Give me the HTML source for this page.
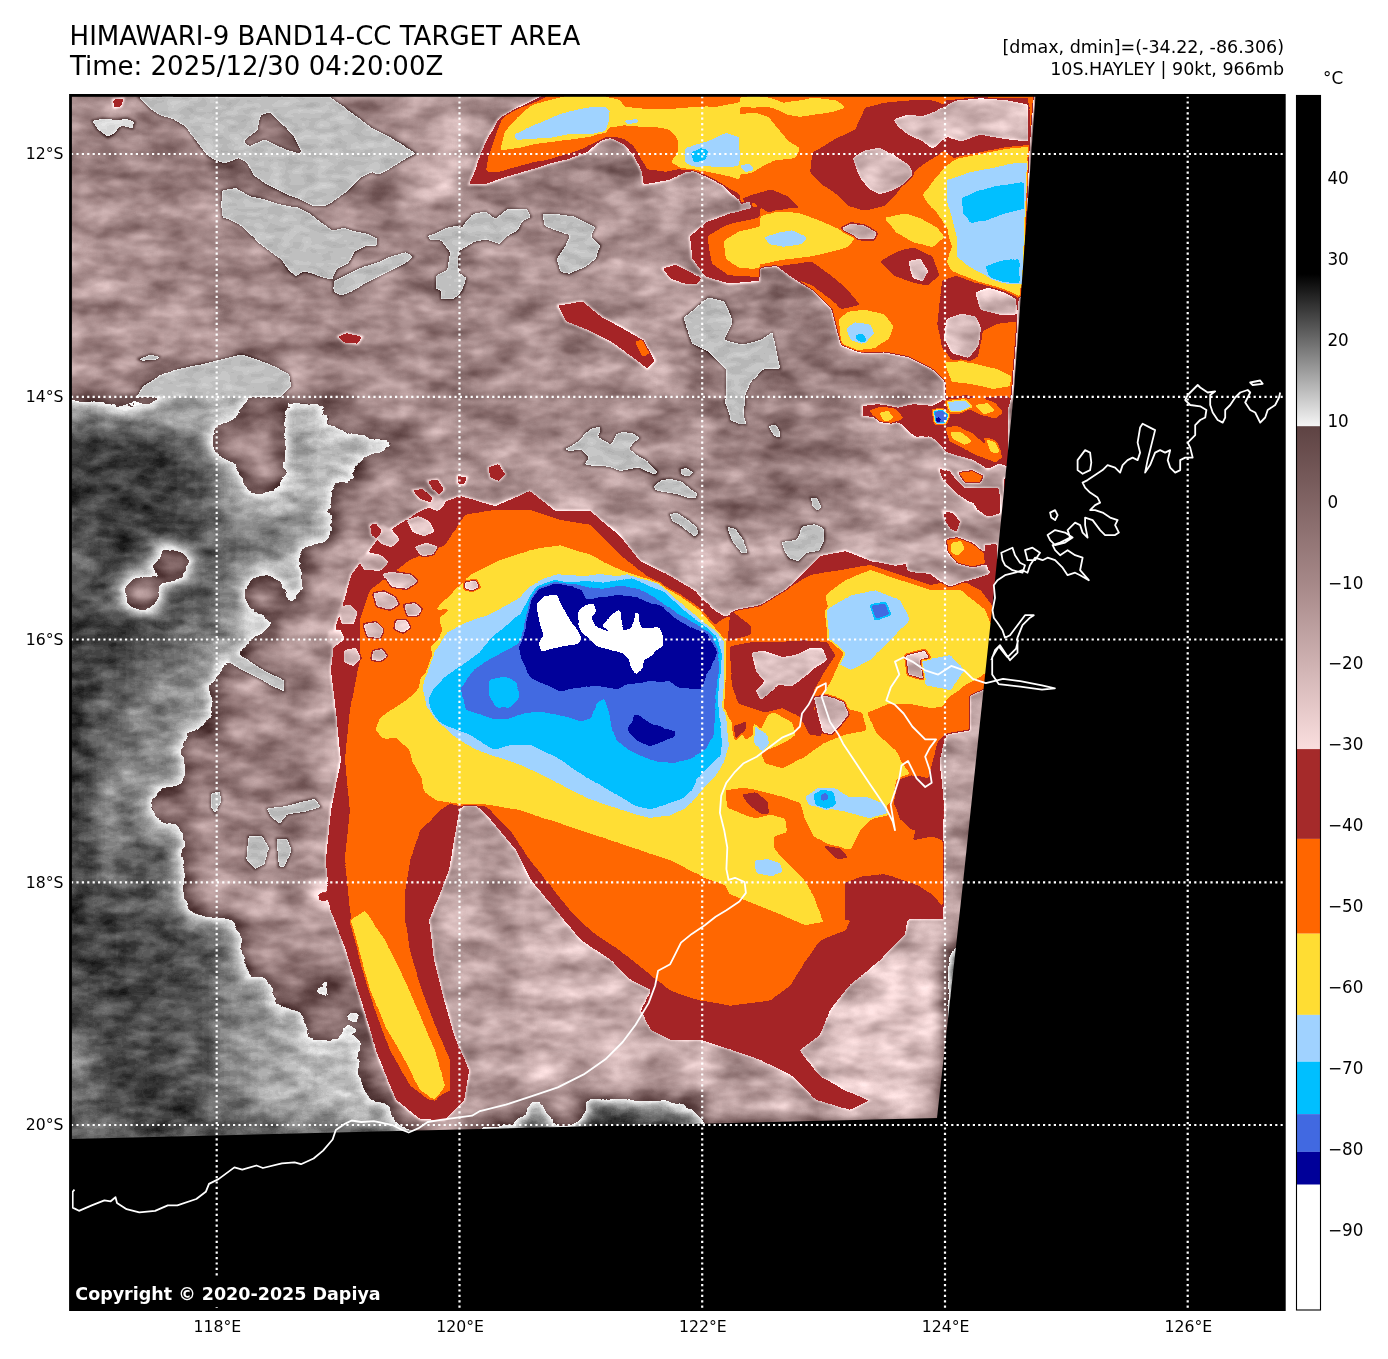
<!DOCTYPE html>
<html><head><meta charset="utf-8"><style>
html,body{margin:0;padding:0;background:#fff;width:1388px;height:1359px;overflow:hidden}
svg{display:block}
text{font-family:"DejaVu Sans","Liberation Sans",sans-serif;fill:#000}
</style></head><body>
<svg width="1388" height="1359" viewBox="0 0 1388 1359">
<defs>
<clipPath id="mapclip"><rect x="71" y="96" width="1213" height="1214"/></clipPath>
<linearGradient id="gbw" x1="0" y1="0" x2="0" y2="1"><stop offset="0" stop-color="#000"/><stop offset="1" stop-color="#f6f6f6"/></linearGradient>
<linearGradient id="gbr" x1="0" y1="0" x2="0" y2="1"><stop offset="0" stop-color="#5e4343"/><stop offset="0.5" stop-color="#a88a8a"/><stop offset="1" stop-color="#fadede"/></linearGradient>
</defs>
<rect width="1388" height="1359" fill="#fff"/>
<text x="69.6" y="44.8" font-size="26">HIMAWARI-9 BAND14-CC TARGET AREA</text>
<text x="69.9" y="74.9" font-size="26">Time: 2025/12/30 04:20:00Z</text>
<text x="1284" y="53.4" font-size="17.5" text-anchor="end">[dmax, dmin]=(-34.22, -86.306)</text>
<text x="1284" y="74.9" font-size="17.5" text-anchor="end">10S.HAYLEY | 90kt, 966mb</text>
<text x="1323" y="84" font-size="16.8">°C</text>

<g clip-path="url(#mapclip)">
<filter id="bl" filterUnits="userSpaceOnUse" x="30" y="50" width="1300" height="1300" color-interpolation-filters="sRGB"><feGaussianBlur in="SourceGraphic" stdDeviation="10" result="b"/><feTurbulence type="fractalNoise" baseFrequency="0.035 0.07" numOctaves="3" seed="7" result="n"/><feColorMatrix in="n" type="matrix" values="1 0 0 0 0  1 0 0 0 0  1 0 0 0 0  0 0 0 0 1" result="g"/><feComposite in="b" in2="g" operator="arithmetic" k1="0" k2="1" k3="0.06" k4="-0.03"/></filter>
<filter id="cm" filterUnits="userSpaceOnUse" x="30" y="50" width="1300" height="1300" color-interpolation-filters="sRGB">
<feGaussianBlur in="SourceGraphic" stdDeviation="1.2" result="b"/><feTurbulence type="fractalNoise" baseFrequency="0.06 0.12" numOctaves="2" seed="11" result="n"/><feColorMatrix in="n" type="matrix" values="1 0 0 0 0  1 0 0 0 0  1 0 0 0 0  0 0 0 0 1" result="g"/><feComposite in="b" in2="g" operator="arithmetic" k1="0" k2="1" k3="0.025" k4="-0.0125" result="nwithfield"/>
<feGaussianBlur in="SourceGraphic" stdDeviation="1.2" result="b2"/>
<feComponentTransfer in="b2" result="mask"><feFuncR type="discrete" tableValues="0 0 0 0 0 0 0 0 0 0 0 0 0 0 0 0 0 0 0 0 0 0 0 0 0 0 0 0 0 0 0 0 0 0 0 0 0 0 0 0 0 0 0 0 0 0 0 0 0 0 0 0 0 0 0 0 0 0 0 0 0 0 0 0 0 0 0 0 0 0 0 0 0 0 0 0 0 0 0 0 0 0 0 0 0 0 0 0 0 0 0 0 0 0 0 0 0 0 0 0 0 0 0 0 0 0 0 0 0 0 0 0 0 0 0 0 0 0 1 1 1 1 1 1 1 1 1 1 1 1 1 1 1 1 1 1 1 1 1 1 1 1 1 1 1 1 1 1 1 1 1 1 1 1 1 1 1 1 1 1 1 1 1 1 1 1 1 1 1 1 1 1 1 1 1 1 1 1 1 1 1 1 1 1 1 1 0 0 0 0 0 0 0 0 0 0 0 0 0 0 0 0 0 0 0 0 0 0 0 0 0 0 0 0 0 0 0 0 0 0 0 0 0 0 0 0 0 0 0 0 0 0 0 0 0 0 0 0 0 0 0 0 0 0 0 0 0 0 0 0 0 0 0 0 0 0"/><feFuncG type="discrete" tableValues="0 0 0 0 0 0 0 0 0 0 0 0 0 0 0 0 0 0 0 0 0 0 0 0 0 0 0 0 0 0 0 0 0 0 0 0 0 0 0 0 0 0 0 0 0 0 0 0 0 0 0 0 0 0 0 0 0 0 0 0 0 0 0 0 0 0 0 0 0 0 0 0 0 0 0 0 0 0 0 0 0 0 0 0 0 0 0 0 0 0 0 0 0 0 0 0 0 0 0 0 0 0 0 0 0 0 0 0 0 0 0 0 0 0 0 0 0 0 1 1 1 1 1 1 1 1 1 1 1 1 1 1 1 1 1 1 1 1 1 1 1 1 1 1 1 1 1 1 1 1 1 1 1 1 1 1 1 1 1 1 1 1 1 1 1 1 1 1 1 1 1 1 1 1 1 1 1 1 1 1 1 1 1 1 1 1 0 0 0 0 0 0 0 0 0 0 0 0 0 0 0 0 0 0 0 0 0 0 0 0 0 0 0 0 0 0 0 0 0 0 0 0 0 0 0 0 0 0 0 0 0 0 0 0 0 0 0 0 0 0 0 0 0 0 0 0 0 0 0 0 0 0 0 0 0 0"/><feFuncB type="discrete" tableValues="0 0 0 0 0 0 0 0 0 0 0 0 0 0 0 0 0 0 0 0 0 0 0 0 0 0 0 0 0 0 0 0 0 0 0 0 0 0 0 0 0 0 0 0 0 0 0 0 0 0 0 0 0 0 0 0 0 0 0 0 0 0 0 0 0 0 0 0 0 0 0 0 0 0 0 0 0 0 0 0 0 0 0 0 0 0 0 0 0 0 0 0 0 0 0 0 0 0 0 0 0 0 0 0 0 0 0 0 0 0 0 0 0 0 0 0 0 0 1 1 1 1 1 1 1 1 1 1 1 1 1 1 1 1 1 1 1 1 1 1 1 1 1 1 1 1 1 1 1 1 1 1 1 1 1 1 1 1 1 1 1 1 1 1 1 1 1 1 1 1 1 1 1 1 1 1 1 1 1 1 1 1 1 1 1 1 0 0 0 0 0 0 0 0 0 0 0 0 0 0 0 0 0 0 0 0 0 0 0 0 0 0 0 0 0 0 0 0 0 0 0 0 0 0 0 0 0 0 0 0 0 0 0 0 0 0 0 0 0 0 0 0 0 0 0 0 0 0 0 0 0 0 0 0 0 0"/><feFuncA type="identity"/></feComponentTransfer>
<feTurbulence type="fractalNoise" baseFrequency="0.025 0.05" numOctaves="3" seed="23" result="n3"/>
<feColorMatrix in="n3" type="matrix" values="1 0 0 0 0  1 0 0 0 0  1 0 0 0 0  0 0 0 0 1" result="g3"/>
<feComposite in="g3" in2="mask" operator="arithmetic" k1="0.5" k2="0" k3="-0.25" k4="0.5" result="nm"/>
<feComponentTransfer in="nwithfield" result="cm0"><feFuncR type="discrete" tableValues="1 1 1 1 1 1 1 1 1 1 1 1 1 1 1 1 1 1 1 1 1 1 1 1 1 1 1 0 0 0 0 0 0 0 0.255 0.255 0.255 0.255 0.255 0.255 0.255 0.255 0 0 0 0 0 0 0 0 0 0 0 0.627 0.627 0.627 0.627 0.627 0.627 0.627 0.627 0.627 0.627 1 1 1 1 1 1 1 1 1 1 1 1 1 1 1 1 1 1 1 1 1 1 1 1 1 1 1 1 1 1 1 1 1 1 1 1 1 0.647 0.647 0.647 0.647 0.647 0.647 0.647 0.647 0.647 0.647 0.647 0.647 0.647 0.647 0.647 0.647 0.647 0.647 0.987 0.978 0.969 0.96 0.951 0.942 0.933 0.924 0.915 0.906 0.897 0.888 0.878 0.869 0.86 0.851 0.842 0.833 0.824 0.815 0.806 0.797 0.788 0.779 0.77 0.761 0.752 0.743 0.733 0.724 0.715 0.706 0.697 0.688 0.679 0.67 0.661 0.652 0.643 0.634 0.625 0.616 0.607 0.597 0.588 0.579 0.57 0.561 0.552 0.543 0.534 0.525 0.516 0.507 0.498 0.489 0.48 0.471 0.461 0.452 0.443 0.434 0.425 0.416 0.407 0.398 0.389 0.38 0.959 0.929 0.898 0.868 0.838 0.807 0.777 0.747 0.716 0.686 0.655 0.625 0.595 0.564 0.534 0.504 0.473 0.443 0.413 0.382 0.352 0.322 0.291 0.261 0.231 0.2 0.17 0.14 0.109 0.0789 0.0486 0.0182 0 0 0 0 0 0 0 0 0 0 0 0 0 0 0 0 0 0 0 0 0 0 0 0 0 0 0 0 0 0 0 0 0 0 0 0 0 0"/><feFuncG type="discrete" tableValues="1 1 1 1 1 1 1 1 1 1 1 1 1 1 1 1 1 1 1 1 1 1 1 1 1 1 1 0 0 0 0 0 0 0 0.412 0.412 0.412 0.412 0.412 0.412 0.412 0.412 0.749 0.749 0.749 0.749 0.749 0.749 0.749 0.749 0.749 0.749 0.749 0.824 0.824 0.824 0.824 0.824 0.824 0.824 0.824 0.824 0.824 0.867 0.867 0.867 0.867 0.867 0.867 0.867 0.867 0.867 0.867 0.867 0.867 0.867 0.867 0.867 0.867 0.867 0.4 0.4 0.4 0.4 0.4 0.4 0.4 0.4 0.4 0.4 0.4 0.4 0.4 0.4 0.4 0.4 0.4 0.4 0.4 0.4 0.141 0.141 0.141 0.141 0.141 0.141 0.141 0.141 0.141 0.141 0.141 0.141 0.141 0.141 0.141 0.141 0.141 0.141 0.877 0.868 0.859 0.85 0.841 0.832 0.823 0.814 0.805 0.796 0.787 0.778 0.769 0.76 0.751 0.742 0.733 0.724 0.715 0.706 0.697 0.688 0.679 0.67 0.661 0.652 0.643 0.634 0.625 0.616 0.607 0.598 0.589 0.58 0.571 0.562 0.553 0.544 0.535 0.526 0.517 0.508 0.499 0.49 0.481 0.472 0.463 0.454 0.445 0.436 0.427 0.418 0.409 0.4 0.391 0.382 0.373 0.364 0.355 0.346 0.337 0.328 0.319 0.31 0.301 0.292 0.283 0.274 0.959 0.929 0.898 0.868 0.838 0.807 0.777 0.747 0.716 0.686 0.655 0.625 0.595 0.564 0.534 0.504 0.473 0.443 0.413 0.382 0.352 0.322 0.291 0.261 0.231 0.2 0.17 0.14 0.109 0.0789 0.0486 0.0182 0 0 0 0 0 0 0 0 0 0 0 0 0 0 0 0 0 0 0 0 0 0 0 0 0 0 0 0 0 0 0 0 0 0 0 0 0 0"/><feFuncB type="discrete" tableValues="1 1 1 1 1 1 1 1 1 1 1 1 1 1 1 1 1 1 1 1 1 1 1 1 1 1 1 0.6 0.6 0.6 0.6 0.6 0.6 0.6 0.882 0.882 0.882 0.882 0.882 0.882 0.882 0.882 1 1 1 1 1 1 1 1 1 1 1 1 1 1 1 1 1 1 1 1 1 0.2 0.2 0.2 0.2 0.2 0.2 0.2 0.2 0.2 0.2 0.2 0.2 0.2 0.2 0.2 0.2 0.2 0 0 0 0 0 0 0 0 0 0 0 0 0 0 0 0 0 0 0 0 0.149 0.149 0.149 0.149 0.149 0.149 0.149 0.149 0.149 0.149 0.149 0.149 0.149 0.149 0.149 0.149 0.149 0.149 0.877 0.868 0.859 0.85 0.841 0.832 0.823 0.814 0.805 0.796 0.787 0.778 0.769 0.76 0.751 0.742 0.733 0.724 0.715 0.706 0.697 0.688 0.679 0.67 0.661 0.652 0.643 0.634 0.625 0.616 0.607 0.598 0.589 0.58 0.571 0.562 0.553 0.544 0.535 0.526 0.517 0.508 0.499 0.49 0.481 0.472 0.463 0.454 0.445 0.436 0.427 0.418 0.409 0.4 0.391 0.382 0.373 0.364 0.355 0.346 0.337 0.328 0.319 0.31 0.301 0.292 0.283 0.274 0.959 0.929 0.898 0.868 0.838 0.807 0.777 0.747 0.716 0.686 0.655 0.625 0.595 0.564 0.534 0.504 0.473 0.443 0.413 0.382 0.352 0.322 0.291 0.261 0.231 0.2 0.17 0.14 0.109 0.0789 0.0486 0.0182 0 0 0 0 0 0 0 0 0 0 0 0 0 0 0 0 0 0 0 0 0 0 0 0 0 0 0 0 0 0 0 0 0 0 0 0 0 0"/><feFuncA type="identity"/></feComponentTransfer>
<feComposite in="cm0" in2="nm" operator="arithmetic" k1="0" k2="1" k3="1" k4="-0.5"/>
</filter>
<g filter="url(#cm)">
<g filter="url(#bl)">
<rect x="4.3" y="32.6" width="152.3" height="30.9" fill="rgb(155,155,155)"/>
<rect x="156.0" y="32.6" width="182.7" height="30.9" fill="rgb(162,162,162)"/>
<rect x="338.1" y="32.6" width="61.3" height="30.9" fill="rgb(155,155,155)"/>
<rect x="398.8" y="32.6" width="91.6" height="30.9" fill="rgb(148,148,148)"/>
<rect x="489.8" y="32.6" width="425.4" height="30.9" fill="rgb(155,155,155)"/>
<rect x="914.6" y="32.6" width="122.0" height="30.9" fill="rgb(148,148,148)"/>
<rect x="1036.0" y="32.6" width="91.6" height="30.9" fill="rgb(219,219,219)"/>
<rect x="4.3" y="63.0" width="152.3" height="30.9" fill="rgb(155,155,155)"/>
<rect x="156.0" y="63.0" width="182.7" height="30.9" fill="rgb(162,162,162)"/>
<rect x="338.1" y="63.0" width="61.3" height="30.9" fill="rgb(155,155,155)"/>
<rect x="398.8" y="63.0" width="91.6" height="30.9" fill="rgb(148,148,148)"/>
<rect x="489.8" y="63.0" width="425.4" height="30.9" fill="rgb(155,155,155)"/>
<rect x="914.6" y="63.0" width="122.0" height="30.9" fill="rgb(148,148,148)"/>
<rect x="1036.0" y="63.0" width="91.6" height="30.9" fill="rgb(219,219,219)"/>
<rect x="4.3" y="93.3" width="152.3" height="30.9" fill="rgb(155,155,155)"/>
<rect x="156.0" y="93.3" width="182.7" height="30.9" fill="rgb(162,162,162)"/>
<rect x="338.1" y="93.3" width="61.3" height="30.9" fill="rgb(155,155,155)"/>
<rect x="398.8" y="93.3" width="91.6" height="30.9" fill="rgb(148,148,148)"/>
<rect x="489.8" y="93.3" width="425.4" height="30.9" fill="rgb(155,155,155)"/>
<rect x="914.6" y="93.3" width="122.0" height="30.9" fill="rgb(148,148,148)"/>
<rect x="1036.0" y="93.3" width="91.6" height="30.9" fill="rgb(219,219,219)"/>
<rect x="4.3" y="123.7" width="152.3" height="30.9" fill="rgb(155,155,155)"/>
<rect x="156.0" y="123.7" width="30.9" height="30.9" fill="rgb(162,162,162)"/>
<rect x="186.4" y="123.7" width="30.9" height="30.9" fill="rgb(148,148,148)"/>
<rect x="216.7" y="123.7" width="182.7" height="30.9" fill="rgb(162,162,162)"/>
<rect x="398.8" y="123.7" width="30.9" height="30.9" fill="rgb(148,148,148)"/>
<rect x="429.1" y="123.7" width="30.9" height="30.9" fill="rgb(141,141,141)"/>
<rect x="459.5" y="123.7" width="425.4" height="30.9" fill="rgb(155,155,155)"/>
<rect x="884.3" y="123.7" width="61.3" height="30.9" fill="rgb(148,148,148)"/>
<rect x="945.0" y="123.7" width="61.3" height="30.9" fill="rgb(155,155,155)"/>
<rect x="1005.7" y="123.7" width="30.9" height="30.9" fill="rgb(148,148,148)"/>
<rect x="1036.0" y="123.7" width="91.6" height="30.9" fill="rgb(219,219,219)"/>
<rect x="4.3" y="154.0" width="122.0" height="30.9" fill="rgb(162,162,162)"/>
<rect x="125.7" y="154.0" width="30.9" height="30.9" fill="rgb(168,168,168)"/>
<rect x="156.0" y="154.0" width="61.3" height="30.9" fill="rgb(162,162,162)"/>
<rect x="216.7" y="154.0" width="30.9" height="30.9" fill="rgb(175,175,175)"/>
<rect x="247.0" y="154.0" width="122.0" height="30.9" fill="rgb(162,162,162)"/>
<rect x="368.4" y="154.0" width="30.9" height="30.9" fill="rgb(168,168,168)"/>
<rect x="398.8" y="154.0" width="30.9" height="30.9" fill="rgb(148,148,148)"/>
<rect x="429.1" y="154.0" width="30.9" height="30.9" fill="rgb(134,134,134)"/>
<rect x="459.5" y="154.0" width="91.6" height="30.9" fill="rgb(155,155,155)"/>
<rect x="550.5" y="154.0" width="61.3" height="30.9" fill="rgb(162,162,162)"/>
<rect x="611.2" y="154.0" width="30.9" height="30.9" fill="rgb(168,168,168)"/>
<rect x="641.5" y="154.0" width="213.0" height="30.9" fill="rgb(155,155,155)"/>
<rect x="853.9" y="154.0" width="30.9" height="30.9" fill="rgb(148,148,148)"/>
<rect x="884.3" y="154.0" width="152.3" height="30.9" fill="rgb(155,155,155)"/>
<rect x="1036.0" y="154.0" width="91.6" height="30.9" fill="rgb(219,219,219)"/>
<rect x="4.3" y="184.3" width="152.3" height="30.9" fill="rgb(155,155,155)"/>
<rect x="156.0" y="184.3" width="30.9" height="30.9" fill="rgb(162,162,162)"/>
<rect x="186.4" y="184.3" width="30.9" height="30.9" fill="rgb(148,148,148)"/>
<rect x="216.7" y="184.3" width="91.6" height="30.9" fill="rgb(162,162,162)"/>
<rect x="307.7" y="184.3" width="30.9" height="30.9" fill="rgb(148,148,148)"/>
<rect x="338.1" y="184.3" width="30.9" height="30.9" fill="rgb(168,168,168)"/>
<rect x="368.4" y="184.3" width="30.9" height="30.9" fill="rgb(162,162,162)"/>
<rect x="398.8" y="184.3" width="30.9" height="30.9" fill="rgb(155,155,155)"/>
<rect x="429.1" y="184.3" width="30.9" height="30.9" fill="rgb(141,141,141)"/>
<rect x="459.5" y="184.3" width="122.0" height="30.9" fill="rgb(162,162,162)"/>
<rect x="580.8" y="184.3" width="61.3" height="30.9" fill="rgb(155,155,155)"/>
<rect x="641.5" y="184.3" width="30.9" height="30.9" fill="rgb(148,148,148)"/>
<rect x="671.9" y="184.3" width="30.9" height="30.9" fill="rgb(141,141,141)"/>
<rect x="702.2" y="184.3" width="30.9" height="30.9" fill="rgb(148,148,148)"/>
<rect x="732.6" y="184.3" width="304.1" height="30.9" fill="rgb(155,155,155)"/>
<rect x="1036.0" y="184.3" width="91.6" height="30.9" fill="rgb(219,219,219)"/>
<rect x="4.3" y="214.7" width="91.6" height="30.9" fill="rgb(148,148,148)"/>
<rect x="95.3" y="214.7" width="122.0" height="30.9" fill="rgb(155,155,155)"/>
<rect x="216.7" y="214.7" width="122.0" height="30.9" fill="rgb(162,162,162)"/>
<rect x="338.1" y="214.7" width="30.9" height="30.9" fill="rgb(148,148,148)"/>
<rect x="368.4" y="214.7" width="61.3" height="30.9" fill="rgb(155,155,155)"/>
<rect x="429.1" y="214.7" width="30.9" height="30.9" fill="rgb(162,162,162)"/>
<rect x="459.5" y="214.7" width="122.0" height="30.9" fill="rgb(155,155,155)"/>
<rect x="580.8" y="214.7" width="30.9" height="30.9" fill="rgb(148,148,148)"/>
<rect x="611.2" y="214.7" width="91.6" height="30.9" fill="rgb(155,155,155)"/>
<rect x="702.2" y="214.7" width="30.9" height="30.9" fill="rgb(148,148,148)"/>
<rect x="732.6" y="214.7" width="304.1" height="30.9" fill="rgb(155,155,155)"/>
<rect x="1036.0" y="214.7" width="91.6" height="30.9" fill="rgb(219,219,219)"/>
<rect x="4.3" y="245.0" width="91.6" height="30.9" fill="rgb(148,148,148)"/>
<rect x="95.3" y="245.0" width="30.9" height="30.9" fill="rgb(155,155,155)"/>
<rect x="125.7" y="245.0" width="30.9" height="30.9" fill="rgb(148,148,148)"/>
<rect x="156.0" y="245.0" width="91.6" height="30.9" fill="rgb(155,155,155)"/>
<rect x="247.0" y="245.0" width="61.3" height="30.9" fill="rgb(162,162,162)"/>
<rect x="307.7" y="245.0" width="30.9" height="30.9" fill="rgb(155,155,155)"/>
<rect x="338.1" y="245.0" width="30.9" height="30.9" fill="rgb(148,148,148)"/>
<rect x="368.4" y="245.0" width="91.6" height="30.9" fill="rgb(162,162,162)"/>
<rect x="459.5" y="245.0" width="152.3" height="30.9" fill="rgb(155,155,155)"/>
<rect x="611.2" y="245.0" width="30.9" height="30.9" fill="rgb(148,148,148)"/>
<rect x="641.5" y="245.0" width="395.1" height="30.9" fill="rgb(155,155,155)"/>
<rect x="1036.0" y="245.0" width="91.6" height="30.9" fill="rgb(219,219,219)"/>
<rect x="4.3" y="275.4" width="152.3" height="30.9" fill="rgb(155,155,155)"/>
<rect x="156.0" y="275.4" width="30.9" height="30.9" fill="rgb(162,162,162)"/>
<rect x="186.4" y="275.4" width="30.9" height="30.9" fill="rgb(155,155,155)"/>
<rect x="216.7" y="275.4" width="30.9" height="30.9" fill="rgb(162,162,162)"/>
<rect x="247.0" y="275.4" width="91.6" height="30.9" fill="rgb(155,155,155)"/>
<rect x="338.1" y="275.4" width="30.9" height="30.9" fill="rgb(162,162,162)"/>
<rect x="368.4" y="275.4" width="30.9" height="30.9" fill="rgb(148,148,148)"/>
<rect x="398.8" y="275.4" width="61.3" height="30.9" fill="rgb(162,162,162)"/>
<rect x="459.5" y="275.4" width="91.6" height="30.9" fill="rgb(155,155,155)"/>
<rect x="550.5" y="275.4" width="30.9" height="30.9" fill="rgb(148,148,148)"/>
<rect x="580.8" y="275.4" width="61.3" height="30.9" fill="rgb(155,155,155)"/>
<rect x="641.5" y="275.4" width="61.3" height="30.9" fill="rgb(148,148,148)"/>
<rect x="702.2" y="275.4" width="91.6" height="30.9" fill="rgb(162,162,162)"/>
<rect x="793.3" y="275.4" width="243.4" height="30.9" fill="rgb(155,155,155)"/>
<rect x="1036.0" y="275.4" width="91.6" height="30.9" fill="rgb(219,219,219)"/>
<rect x="4.3" y="305.7" width="122.0" height="30.9" fill="rgb(155,155,155)"/>
<rect x="125.7" y="305.7" width="30.9" height="30.9" fill="rgb(148,148,148)"/>
<rect x="156.0" y="305.7" width="30.9" height="30.9" fill="rgb(155,155,155)"/>
<rect x="186.4" y="305.7" width="30.9" height="30.9" fill="rgb(148,148,148)"/>
<rect x="216.7" y="305.7" width="30.9" height="30.9" fill="rgb(155,155,155)"/>
<rect x="247.0" y="305.7" width="30.9" height="30.9" fill="rgb(162,162,162)"/>
<rect x="277.4" y="305.7" width="30.9" height="30.9" fill="rgb(155,155,155)"/>
<rect x="307.7" y="305.7" width="30.9" height="30.9" fill="rgb(162,162,162)"/>
<rect x="338.1" y="305.7" width="152.3" height="30.9" fill="rgb(155,155,155)"/>
<rect x="489.8" y="305.7" width="61.3" height="30.9" fill="rgb(162,162,162)"/>
<rect x="550.5" y="305.7" width="91.6" height="30.9" fill="rgb(155,155,155)"/>
<rect x="641.5" y="305.7" width="61.3" height="30.9" fill="rgb(148,148,148)"/>
<rect x="702.2" y="305.7" width="122.0" height="30.9" fill="rgb(162,162,162)"/>
<rect x="823.6" y="305.7" width="152.3" height="30.9" fill="rgb(155,155,155)"/>
<rect x="975.3" y="305.7" width="30.9" height="30.9" fill="rgb(148,148,148)"/>
<rect x="1005.7" y="305.7" width="30.9" height="30.9" fill="rgb(155,155,155)"/>
<rect x="1036.0" y="305.7" width="91.6" height="30.9" fill="rgb(219,219,219)"/>
<rect x="4.3" y="336.1" width="152.3" height="30.9" fill="rgb(148,148,148)"/>
<rect x="156.0" y="336.1" width="30.9" height="30.9" fill="rgb(155,155,155)"/>
<rect x="186.4" y="336.1" width="30.9" height="30.9" fill="rgb(148,148,148)"/>
<rect x="216.7" y="336.1" width="122.0" height="30.9" fill="rgb(155,155,155)"/>
<rect x="338.1" y="336.1" width="30.9" height="30.9" fill="rgb(162,162,162)"/>
<rect x="368.4" y="336.1" width="61.3" height="30.9" fill="rgb(155,155,155)"/>
<rect x="429.1" y="336.1" width="30.9" height="30.9" fill="rgb(162,162,162)"/>
<rect x="459.5" y="336.1" width="243.4" height="30.9" fill="rgb(155,155,155)"/>
<rect x="702.2" y="336.1" width="122.0" height="30.9" fill="rgb(162,162,162)"/>
<rect x="823.6" y="336.1" width="122.0" height="30.9" fill="rgb(155,155,155)"/>
<rect x="945.0" y="336.1" width="30.9" height="30.9" fill="rgb(148,148,148)"/>
<rect x="975.3" y="336.1" width="61.3" height="30.9" fill="rgb(155,155,155)"/>
<rect x="1036.0" y="336.1" width="91.6" height="30.9" fill="rgb(219,219,219)"/>
<rect x="4.3" y="366.4" width="152.3" height="30.9" fill="rgb(155,155,155)"/>
<rect x="156.0" y="366.4" width="122.0" height="30.9" fill="rgb(196,196,196)"/>
<rect x="277.4" y="366.4" width="152.3" height="30.9" fill="rgb(155,155,155)"/>
<rect x="429.1" y="366.4" width="30.9" height="30.9" fill="rgb(168,168,168)"/>
<rect x="459.5" y="366.4" width="30.9" height="30.9" fill="rgb(162,162,162)"/>
<rect x="489.8" y="366.4" width="30.9" height="30.9" fill="rgb(155,155,155)"/>
<rect x="520.1" y="366.4" width="30.9" height="30.9" fill="rgb(148,148,148)"/>
<rect x="550.5" y="366.4" width="30.9" height="30.9" fill="rgb(155,155,155)"/>
<rect x="580.8" y="366.4" width="91.6" height="30.9" fill="rgb(148,148,148)"/>
<rect x="671.9" y="366.4" width="30.9" height="30.9" fill="rgb(155,155,155)"/>
<rect x="702.2" y="366.4" width="243.4" height="30.9" fill="rgb(162,162,162)"/>
<rect x="945.0" y="366.4" width="91.6" height="30.9" fill="rgb(155,155,155)"/>
<rect x="1036.0" y="366.4" width="91.6" height="30.9" fill="rgb(219,219,219)"/>
<rect x="4.3" y="396.8" width="91.6" height="30.9" fill="rgb(200,200,200)"/>
<rect x="95.3" y="396.8" width="152.3" height="30.9" fill="rgb(196,196,196)"/>
<rect x="247.0" y="396.8" width="30.9" height="30.9" fill="rgb(155,155,155)"/>
<rect x="277.4" y="396.8" width="30.9" height="30.9" fill="rgb(196,196,196)"/>
<rect x="307.7" y="396.8" width="30.9" height="30.9" fill="rgb(193,193,193)"/>
<rect x="338.1" y="396.8" width="30.9" height="30.9" fill="rgb(155,155,155)"/>
<rect x="368.4" y="396.8" width="61.3" height="30.9" fill="rgb(148,148,148)"/>
<rect x="429.1" y="396.8" width="30.9" height="30.9" fill="rgb(155,155,155)"/>
<rect x="459.5" y="396.8" width="91.6" height="30.9" fill="rgb(162,162,162)"/>
<rect x="550.5" y="396.8" width="30.9" height="30.9" fill="rgb(155,155,155)"/>
<rect x="580.8" y="396.8" width="61.3" height="30.9" fill="rgb(162,162,162)"/>
<rect x="641.5" y="396.8" width="61.3" height="30.9" fill="rgb(155,155,155)"/>
<rect x="702.2" y="396.8" width="152.3" height="30.9" fill="rgb(162,162,162)"/>
<rect x="853.9" y="396.8" width="182.7" height="30.9" fill="rgb(155,155,155)"/>
<rect x="1036.0" y="396.8" width="91.6" height="30.9" fill="rgb(219,219,219)"/>
<rect x="4.3" y="427.1" width="152.3" height="30.9" fill="rgb(210,210,210)"/>
<rect x="156.0" y="427.1" width="30.9" height="30.9" fill="rgb(207,207,207)"/>
<rect x="186.4" y="427.1" width="30.9" height="30.9" fill="rgb(204,204,204)"/>
<rect x="216.7" y="427.1" width="61.3" height="30.9" fill="rgb(148,148,148)"/>
<rect x="277.4" y="427.1" width="30.9" height="30.9" fill="rgb(196,196,196)"/>
<rect x="307.7" y="427.1" width="30.9" height="30.9" fill="rgb(193,193,193)"/>
<rect x="338.1" y="427.1" width="30.9" height="30.9" fill="rgb(196,196,196)"/>
<rect x="368.4" y="427.1" width="30.9" height="30.9" fill="rgb(193,193,193)"/>
<rect x="398.8" y="427.1" width="30.9" height="30.9" fill="rgb(168,168,168)"/>
<rect x="429.1" y="427.1" width="30.9" height="30.9" fill="rgb(148,148,148)"/>
<rect x="459.5" y="427.1" width="61.3" height="30.9" fill="rgb(155,155,155)"/>
<rect x="520.1" y="427.1" width="30.9" height="30.9" fill="rgb(148,148,148)"/>
<rect x="550.5" y="427.1" width="152.3" height="30.9" fill="rgb(155,155,155)"/>
<rect x="702.2" y="427.1" width="152.3" height="30.9" fill="rgb(162,162,162)"/>
<rect x="853.9" y="427.1" width="182.7" height="30.9" fill="rgb(148,148,148)"/>
<rect x="1036.0" y="427.1" width="91.6" height="30.9" fill="rgb(219,219,219)"/>
<rect x="4.3" y="457.4" width="182.7" height="30.9" fill="rgb(210,210,210)"/>
<rect x="186.4" y="457.4" width="30.9" height="30.9" fill="rgb(207,207,207)"/>
<rect x="216.7" y="457.4" width="30.9" height="30.9" fill="rgb(200,200,200)"/>
<rect x="247.0" y="457.4" width="30.9" height="30.9" fill="rgb(148,148,148)"/>
<rect x="277.4" y="457.4" width="30.9" height="30.9" fill="rgb(196,196,196)"/>
<rect x="307.7" y="457.4" width="61.3" height="30.9" fill="rgb(193,193,193)"/>
<rect x="368.4" y="457.4" width="30.9" height="30.9" fill="rgb(155,155,155)"/>
<rect x="398.8" y="457.4" width="30.9" height="30.9" fill="rgb(148,148,148)"/>
<rect x="429.1" y="457.4" width="61.3" height="30.9" fill="rgb(155,155,155)"/>
<rect x="489.8" y="457.4" width="30.9" height="30.9" fill="rgb(148,148,148)"/>
<rect x="520.1" y="457.4" width="30.9" height="30.9" fill="rgb(155,155,155)"/>
<rect x="550.5" y="457.4" width="30.9" height="30.9" fill="rgb(148,148,148)"/>
<rect x="580.8" y="457.4" width="30.9" height="30.9" fill="rgb(155,155,155)"/>
<rect x="611.2" y="457.4" width="30.9" height="30.9" fill="rgb(148,148,148)"/>
<rect x="641.5" y="457.4" width="61.3" height="30.9" fill="rgb(155,155,155)"/>
<rect x="702.2" y="457.4" width="152.3" height="30.9" fill="rgb(162,162,162)"/>
<rect x="853.9" y="457.4" width="182.7" height="30.9" fill="rgb(148,148,148)"/>
<rect x="1036.0" y="457.4" width="91.6" height="30.9" fill="rgb(219,219,219)"/>
<rect x="4.3" y="487.8" width="182.7" height="30.9" fill="rgb(210,210,210)"/>
<rect x="186.4" y="487.8" width="30.9" height="30.9" fill="rgb(207,207,207)"/>
<rect x="216.7" y="487.8" width="122.0" height="30.9" fill="rgb(196,196,196)"/>
<rect x="338.1" y="487.8" width="30.9" height="30.9" fill="rgb(155,155,155)"/>
<rect x="368.4" y="487.8" width="30.9" height="30.9" fill="rgb(148,148,148)"/>
<rect x="398.8" y="487.8" width="30.9" height="30.9" fill="rgb(162,162,162)"/>
<rect x="429.1" y="487.8" width="30.9" height="30.9" fill="rgb(148,148,148)"/>
<rect x="459.5" y="487.8" width="61.3" height="30.9" fill="rgb(155,155,155)"/>
<rect x="520.1" y="487.8" width="30.9" height="30.9" fill="rgb(148,148,148)"/>
<rect x="550.5" y="487.8" width="30.9" height="30.9" fill="rgb(141,141,141)"/>
<rect x="580.8" y="487.8" width="30.9" height="30.9" fill="rgb(148,148,148)"/>
<rect x="611.2" y="487.8" width="61.3" height="30.9" fill="rgb(155,155,155)"/>
<rect x="671.9" y="487.8" width="30.9" height="30.9" fill="rgb(148,148,148)"/>
<rect x="702.2" y="487.8" width="152.3" height="30.9" fill="rgb(162,162,162)"/>
<rect x="853.9" y="487.8" width="152.3" height="30.9" fill="rgb(148,148,148)"/>
<rect x="1005.7" y="487.8" width="122.0" height="30.9" fill="rgb(219,219,219)"/>
<rect x="4.3" y="518.1" width="91.6" height="30.9" fill="rgb(207,207,207)"/>
<rect x="95.3" y="518.1" width="91.6" height="30.9" fill="rgb(210,210,210)"/>
<rect x="186.4" y="518.1" width="30.9" height="30.9" fill="rgb(207,207,207)"/>
<rect x="216.7" y="518.1" width="30.9" height="30.9" fill="rgb(204,204,204)"/>
<rect x="247.0" y="518.1" width="61.3" height="30.9" fill="rgb(200,200,200)"/>
<rect x="307.7" y="518.1" width="30.9" height="30.9" fill="rgb(196,196,196)"/>
<rect x="338.1" y="518.1" width="30.9" height="30.9" fill="rgb(148,148,148)"/>
<rect x="368.4" y="518.1" width="61.3" height="30.9" fill="rgb(155,155,155)"/>
<rect x="429.1" y="518.1" width="334.4" height="30.9" fill="rgb(148,148,148)"/>
<rect x="762.9" y="518.1" width="61.3" height="30.9" fill="rgb(155,155,155)"/>
<rect x="823.6" y="518.1" width="182.7" height="30.9" fill="rgb(148,148,148)"/>
<rect x="1005.7" y="518.1" width="122.0" height="30.9" fill="rgb(219,219,219)"/>
<rect x="4.3" y="548.5" width="91.6" height="30.9" fill="rgb(204,204,204)"/>
<rect x="95.3" y="548.5" width="30.9" height="30.9" fill="rgb(210,210,210)"/>
<rect x="125.7" y="548.5" width="30.9" height="30.9" fill="rgb(207,207,207)"/>
<rect x="156.0" y="548.5" width="30.9" height="30.9" fill="rgb(155,155,155)"/>
<rect x="186.4" y="548.5" width="30.9" height="30.9" fill="rgb(207,207,207)"/>
<rect x="216.7" y="548.5" width="30.9" height="30.9" fill="rgb(204,204,204)"/>
<rect x="247.0" y="548.5" width="30.9" height="30.9" fill="rgb(200,200,200)"/>
<rect x="277.4" y="548.5" width="30.9" height="30.9" fill="rgb(196,196,196)"/>
<rect x="307.7" y="548.5" width="30.9" height="30.9" fill="rgb(148,148,148)"/>
<rect x="338.1" y="548.5" width="30.9" height="30.9" fill="rgb(155,155,155)"/>
<rect x="368.4" y="548.5" width="334.4" height="30.9" fill="rgb(148,148,148)"/>
<rect x="702.2" y="548.5" width="30.9" height="30.9" fill="rgb(141,141,141)"/>
<rect x="732.6" y="548.5" width="273.7" height="30.9" fill="rgb(148,148,148)"/>
<rect x="1005.7" y="548.5" width="122.0" height="30.9" fill="rgb(219,219,219)"/>
<rect x="4.3" y="578.8" width="122.0" height="30.9" fill="rgb(207,207,207)"/>
<rect x="125.7" y="578.8" width="30.9" height="30.9" fill="rgb(155,155,155)"/>
<rect x="156.0" y="578.8" width="30.9" height="30.9" fill="rgb(210,210,210)"/>
<rect x="186.4" y="578.8" width="30.9" height="30.9" fill="rgb(207,207,207)"/>
<rect x="216.7" y="578.8" width="30.9" height="30.9" fill="rgb(200,200,200)"/>
<rect x="247.0" y="578.8" width="30.9" height="30.9" fill="rgb(155,155,155)"/>
<rect x="277.4" y="578.8" width="30.9" height="30.9" fill="rgb(196,196,196)"/>
<rect x="307.7" y="578.8" width="698.5" height="30.9" fill="rgb(148,148,148)"/>
<rect x="1005.7" y="578.8" width="122.0" height="30.9" fill="rgb(219,219,219)"/>
<rect x="4.3" y="609.2" width="152.3" height="30.9" fill="rgb(210,210,210)"/>
<rect x="156.0" y="609.2" width="30.9" height="30.9" fill="rgb(207,207,207)"/>
<rect x="186.4" y="609.2" width="30.9" height="30.9" fill="rgb(204,204,204)"/>
<rect x="216.7" y="609.2" width="30.9" height="30.9" fill="rgb(200,200,200)"/>
<rect x="247.0" y="609.2" width="30.9" height="30.9" fill="rgb(196,196,196)"/>
<rect x="277.4" y="609.2" width="30.9" height="30.9" fill="rgb(155,155,155)"/>
<rect x="307.7" y="609.2" width="698.5" height="30.9" fill="rgb(148,148,148)"/>
<rect x="1005.7" y="609.2" width="122.0" height="30.9" fill="rgb(219,219,219)"/>
<rect x="4.3" y="639.5" width="122.0" height="30.9" fill="rgb(210,210,210)"/>
<rect x="125.7" y="639.5" width="30.9" height="30.9" fill="rgb(207,207,207)"/>
<rect x="156.0" y="639.5" width="30.9" height="30.9" fill="rgb(204,204,204)"/>
<rect x="186.4" y="639.5" width="30.9" height="30.9" fill="rgb(200,200,200)"/>
<rect x="216.7" y="639.5" width="30.9" height="30.9" fill="rgb(196,196,196)"/>
<rect x="247.0" y="639.5" width="91.6" height="30.9" fill="rgb(155,155,155)"/>
<rect x="338.1" y="639.5" width="668.2" height="30.9" fill="rgb(148,148,148)"/>
<rect x="1005.7" y="639.5" width="122.0" height="30.9" fill="rgb(219,219,219)"/>
<rect x="4.3" y="669.9" width="91.6" height="30.9" fill="rgb(210,210,210)"/>
<rect x="95.3" y="669.9" width="30.9" height="30.9" fill="rgb(207,207,207)"/>
<rect x="125.7" y="669.9" width="30.9" height="30.9" fill="rgb(204,204,204)"/>
<rect x="156.0" y="669.9" width="61.3" height="30.9" fill="rgb(200,200,200)"/>
<rect x="216.7" y="669.9" width="61.3" height="30.9" fill="rgb(155,155,155)"/>
<rect x="277.4" y="669.9" width="30.9" height="30.9" fill="rgb(162,162,162)"/>
<rect x="307.7" y="669.9" width="698.5" height="30.9" fill="rgb(148,148,148)"/>
<rect x="1005.7" y="669.9" width="122.0" height="30.9" fill="rgb(219,219,219)"/>
<rect x="4.3" y="700.2" width="91.6" height="30.9" fill="rgb(210,210,210)"/>
<rect x="95.3" y="700.2" width="30.9" height="30.9" fill="rgb(207,207,207)"/>
<rect x="125.7" y="700.2" width="91.6" height="30.9" fill="rgb(200,200,200)"/>
<rect x="216.7" y="700.2" width="30.9" height="30.9" fill="rgb(155,155,155)"/>
<rect x="247.0" y="700.2" width="30.9" height="30.9" fill="rgb(162,162,162)"/>
<rect x="277.4" y="700.2" width="30.9" height="30.9" fill="rgb(155,155,155)"/>
<rect x="307.7" y="700.2" width="698.5" height="30.9" fill="rgb(148,148,148)"/>
<rect x="1005.7" y="700.2" width="122.0" height="30.9" fill="rgb(219,219,219)"/>
<rect x="4.3" y="730.6" width="91.6" height="30.9" fill="rgb(210,210,210)"/>
<rect x="95.3" y="730.6" width="30.9" height="30.9" fill="rgb(204,204,204)"/>
<rect x="125.7" y="730.6" width="61.3" height="30.9" fill="rgb(200,200,200)"/>
<rect x="186.4" y="730.6" width="30.9" height="30.9" fill="rgb(162,162,162)"/>
<rect x="216.7" y="730.6" width="30.9" height="30.9" fill="rgb(155,155,155)"/>
<rect x="247.0" y="730.6" width="61.3" height="30.9" fill="rgb(162,162,162)"/>
<rect x="307.7" y="730.6" width="637.8" height="30.9" fill="rgb(148,148,148)"/>
<rect x="945.0" y="730.6" width="30.9" height="30.9" fill="rgb(141,141,141)"/>
<rect x="975.3" y="730.6" width="30.9" height="30.9" fill="rgb(148,148,148)"/>
<rect x="1005.7" y="730.6" width="122.0" height="30.9" fill="rgb(219,219,219)"/>
<rect x="4.3" y="760.9" width="91.6" height="30.9" fill="rgb(210,210,210)"/>
<rect x="95.3" y="760.9" width="61.3" height="30.9" fill="rgb(200,200,200)"/>
<rect x="156.0" y="760.9" width="30.9" height="30.9" fill="rgb(204,204,204)"/>
<rect x="186.4" y="760.9" width="30.9" height="30.9" fill="rgb(155,155,155)"/>
<rect x="216.7" y="760.9" width="91.6" height="30.9" fill="rgb(162,162,162)"/>
<rect x="307.7" y="760.9" width="30.9" height="30.9" fill="rgb(148,148,148)"/>
<rect x="338.1" y="760.9" width="30.9" height="30.9" fill="rgb(155,155,155)"/>
<rect x="368.4" y="760.9" width="577.2" height="30.9" fill="rgb(148,148,148)"/>
<rect x="945.0" y="760.9" width="30.9" height="30.9" fill="rgb(141,141,141)"/>
<rect x="975.3" y="760.9" width="30.9" height="30.9" fill="rgb(148,148,148)"/>
<rect x="1005.7" y="760.9" width="122.0" height="30.9" fill="rgb(219,219,219)"/>
<rect x="4.3" y="791.2" width="91.6" height="30.9" fill="rgb(210,210,210)"/>
<rect x="95.3" y="791.2" width="61.3" height="30.9" fill="rgb(200,200,200)"/>
<rect x="156.0" y="791.2" width="61.3" height="30.9" fill="rgb(155,155,155)"/>
<rect x="216.7" y="791.2" width="30.9" height="30.9" fill="rgb(162,162,162)"/>
<rect x="247.0" y="791.2" width="61.3" height="30.9" fill="rgb(155,155,155)"/>
<rect x="307.7" y="791.2" width="30.9" height="30.9" fill="rgb(148,148,148)"/>
<rect x="338.1" y="791.2" width="30.9" height="30.9" fill="rgb(155,155,155)"/>
<rect x="368.4" y="791.2" width="637.8" height="30.9" fill="rgb(148,148,148)"/>
<rect x="1005.7" y="791.2" width="122.0" height="30.9" fill="rgb(219,219,219)"/>
<rect x="4.3" y="821.6" width="91.6" height="30.9" fill="rgb(210,210,210)"/>
<rect x="95.3" y="821.6" width="30.9" height="30.9" fill="rgb(200,200,200)"/>
<rect x="125.7" y="821.6" width="61.3" height="30.9" fill="rgb(204,204,204)"/>
<rect x="186.4" y="821.6" width="30.9" height="30.9" fill="rgb(155,155,155)"/>
<rect x="216.7" y="821.6" width="30.9" height="30.9" fill="rgb(162,162,162)"/>
<rect x="247.0" y="821.6" width="61.3" height="30.9" fill="rgb(155,155,155)"/>
<rect x="307.7" y="821.6" width="122.0" height="30.9" fill="rgb(148,148,148)"/>
<rect x="429.1" y="821.6" width="30.9" height="30.9" fill="rgb(155,155,155)"/>
<rect x="459.5" y="821.6" width="516.5" height="30.9" fill="rgb(148,148,148)"/>
<rect x="975.3" y="821.6" width="152.3" height="30.9" fill="rgb(219,219,219)"/>
<rect x="4.3" y="851.9" width="91.6" height="30.9" fill="rgb(210,210,210)"/>
<rect x="95.3" y="851.9" width="30.9" height="30.9" fill="rgb(204,204,204)"/>
<rect x="125.7" y="851.9" width="30.9" height="30.9" fill="rgb(207,207,207)"/>
<rect x="156.0" y="851.9" width="30.9" height="30.9" fill="rgb(204,204,204)"/>
<rect x="186.4" y="851.9" width="122.0" height="30.9" fill="rgb(155,155,155)"/>
<rect x="307.7" y="851.9" width="122.0" height="30.9" fill="rgb(148,148,148)"/>
<rect x="429.1" y="851.9" width="30.9" height="30.9" fill="rgb(155,155,155)"/>
<rect x="459.5" y="851.9" width="516.5" height="30.9" fill="rgb(148,148,148)"/>
<rect x="975.3" y="851.9" width="152.3" height="30.9" fill="rgb(219,219,219)"/>
<rect x="4.3" y="882.3" width="91.6" height="30.9" fill="rgb(210,210,210)"/>
<rect x="95.3" y="882.3" width="61.3" height="30.9" fill="rgb(207,207,207)"/>
<rect x="156.0" y="882.3" width="30.9" height="30.9" fill="rgb(204,204,204)"/>
<rect x="186.4" y="882.3" width="30.9" height="30.9" fill="rgb(155,155,155)"/>
<rect x="216.7" y="882.3" width="61.3" height="30.9" fill="rgb(148,148,148)"/>
<rect x="277.4" y="882.3" width="30.9" height="30.9" fill="rgb(155,155,155)"/>
<rect x="307.7" y="882.3" width="30.9" height="30.9" fill="rgb(109,109,109)"/>
<rect x="338.1" y="882.3" width="182.7" height="30.9" fill="rgb(148,148,148)"/>
<rect x="520.1" y="882.3" width="182.7" height="30.9" fill="rgb(141,141,141)"/>
<rect x="702.2" y="882.3" width="273.7" height="30.9" fill="rgb(148,148,148)"/>
<rect x="975.3" y="882.3" width="152.3" height="30.9" fill="rgb(219,219,219)"/>
<rect x="4.3" y="912.6" width="122.0" height="30.9" fill="rgb(210,210,210)"/>
<rect x="125.7" y="912.6" width="61.3" height="30.9" fill="rgb(207,207,207)"/>
<rect x="186.4" y="912.6" width="30.9" height="30.9" fill="rgb(204,204,204)"/>
<rect x="216.7" y="912.6" width="30.9" height="30.9" fill="rgb(196,196,196)"/>
<rect x="247.0" y="912.6" width="91.6" height="30.9" fill="rgb(155,155,155)"/>
<rect x="338.1" y="912.6" width="182.7" height="30.9" fill="rgb(148,148,148)"/>
<rect x="520.1" y="912.6" width="182.7" height="30.9" fill="rgb(141,141,141)"/>
<rect x="702.2" y="912.6" width="213.0" height="30.9" fill="rgb(148,148,148)"/>
<rect x="914.6" y="912.6" width="61.3" height="30.9" fill="rgb(141,141,141)"/>
<rect x="975.3" y="912.6" width="152.3" height="30.9" fill="rgb(219,219,219)"/>
<rect x="4.3" y="943.0" width="122.0" height="30.9" fill="rgb(210,210,210)"/>
<rect x="125.7" y="943.0" width="30.9" height="30.9" fill="rgb(207,207,207)"/>
<rect x="156.0" y="943.0" width="30.9" height="30.9" fill="rgb(210,210,210)"/>
<rect x="186.4" y="943.0" width="30.9" height="30.9" fill="rgb(207,207,207)"/>
<rect x="216.7" y="943.0" width="30.9" height="30.9" fill="rgb(204,204,204)"/>
<rect x="247.0" y="943.0" width="91.6" height="30.9" fill="rgb(155,155,155)"/>
<rect x="338.1" y="943.0" width="91.6" height="30.9" fill="rgb(148,148,148)"/>
<rect x="429.1" y="943.0" width="30.9" height="30.9" fill="rgb(155,155,155)"/>
<rect x="459.5" y="943.0" width="61.3" height="30.9" fill="rgb(148,148,148)"/>
<rect x="520.1" y="943.0" width="182.7" height="30.9" fill="rgb(141,141,141)"/>
<rect x="702.2" y="943.0" width="182.7" height="30.9" fill="rgb(148,148,148)"/>
<rect x="884.3" y="943.0" width="61.3" height="30.9" fill="rgb(128,128,128)"/>
<rect x="945.0" y="943.0" width="182.7" height="30.9" fill="rgb(219,219,219)"/>
<rect x="4.3" y="973.3" width="91.6" height="30.9" fill="rgb(207,207,207)"/>
<rect x="95.3" y="973.3" width="61.3" height="30.9" fill="rgb(210,210,210)"/>
<rect x="156.0" y="973.3" width="61.3" height="30.9" fill="rgb(207,207,207)"/>
<rect x="216.7" y="973.3" width="61.3" height="30.9" fill="rgb(200,200,200)"/>
<rect x="277.4" y="973.3" width="30.9" height="30.9" fill="rgb(155,155,155)"/>
<rect x="307.7" y="973.3" width="30.9" height="30.9" fill="rgb(196,196,196)"/>
<rect x="338.1" y="973.3" width="30.9" height="30.9" fill="rgb(155,155,155)"/>
<rect x="368.4" y="973.3" width="152.3" height="30.9" fill="rgb(148,148,148)"/>
<rect x="520.1" y="973.3" width="182.7" height="30.9" fill="rgb(141,141,141)"/>
<rect x="702.2" y="973.3" width="152.3" height="30.9" fill="rgb(148,148,148)"/>
<rect x="853.9" y="973.3" width="91.6" height="30.9" fill="rgb(128,128,128)"/>
<rect x="945.0" y="973.3" width="182.7" height="30.9" fill="rgb(219,219,219)"/>
<rect x="4.3" y="1003.7" width="91.6" height="30.9" fill="rgb(210,210,210)"/>
<rect x="95.3" y="1003.7" width="122.0" height="30.9" fill="rgb(207,207,207)"/>
<rect x="216.7" y="1003.7" width="61.3" height="30.9" fill="rgb(200,200,200)"/>
<rect x="277.4" y="1003.7" width="30.9" height="30.9" fill="rgb(196,196,196)"/>
<rect x="307.7" y="1003.7" width="30.9" height="30.9" fill="rgb(155,155,155)"/>
<rect x="338.1" y="1003.7" width="30.9" height="30.9" fill="rgb(193,193,193)"/>
<rect x="368.4" y="1003.7" width="30.9" height="30.9" fill="rgb(155,155,155)"/>
<rect x="398.8" y="1003.7" width="122.0" height="30.9" fill="rgb(148,148,148)"/>
<rect x="520.1" y="1003.7" width="182.7" height="30.9" fill="rgb(141,141,141)"/>
<rect x="702.2" y="1003.7" width="122.0" height="30.9" fill="rgb(148,148,148)"/>
<rect x="823.6" y="1003.7" width="122.0" height="30.9" fill="rgb(128,128,128)"/>
<rect x="945.0" y="1003.7" width="182.7" height="30.9" fill="rgb(219,219,219)"/>
<rect x="4.3" y="1034.0" width="91.6" height="30.9" fill="rgb(200,200,200)"/>
<rect x="95.3" y="1034.0" width="30.9" height="30.9" fill="rgb(210,210,210)"/>
<rect x="125.7" y="1034.0" width="91.6" height="30.9" fill="rgb(207,207,207)"/>
<rect x="216.7" y="1034.0" width="30.9" height="30.9" fill="rgb(200,200,200)"/>
<rect x="247.0" y="1034.0" width="61.3" height="30.9" fill="rgb(196,196,196)"/>
<rect x="307.7" y="1034.0" width="61.3" height="30.9" fill="rgb(193,193,193)"/>
<rect x="368.4" y="1034.0" width="152.3" height="30.9" fill="rgb(148,148,148)"/>
<rect x="520.1" y="1034.0" width="182.7" height="30.9" fill="rgb(141,141,141)"/>
<rect x="702.2" y="1034.0" width="61.3" height="30.9" fill="rgb(148,148,148)"/>
<rect x="762.9" y="1034.0" width="30.9" height="30.9" fill="rgb(128,128,128)"/>
<rect x="793.3" y="1034.0" width="30.9" height="30.9" fill="rgb(141,141,141)"/>
<rect x="823.6" y="1034.0" width="122.0" height="30.9" fill="rgb(128,128,128)"/>
<rect x="945.0" y="1034.0" width="182.7" height="30.9" fill="rgb(219,219,219)"/>
<rect x="4.3" y="1064.3" width="91.6" height="30.9" fill="rgb(204,204,204)"/>
<rect x="95.3" y="1064.3" width="61.3" height="30.9" fill="rgb(210,210,210)"/>
<rect x="156.0" y="1064.3" width="61.3" height="30.9" fill="rgb(207,207,207)"/>
<rect x="216.7" y="1064.3" width="30.9" height="30.9" fill="rgb(200,200,200)"/>
<rect x="247.0" y="1064.3" width="61.3" height="30.9" fill="rgb(196,196,196)"/>
<rect x="307.7" y="1064.3" width="61.3" height="30.9" fill="rgb(193,193,193)"/>
<rect x="368.4" y="1064.3" width="152.3" height="30.9" fill="rgb(148,148,148)"/>
<rect x="520.1" y="1064.3" width="182.7" height="30.9" fill="rgb(141,141,141)"/>
<rect x="702.2" y="1064.3" width="122.0" height="30.9" fill="rgb(148,148,148)"/>
<rect x="823.6" y="1064.3" width="61.3" height="30.9" fill="rgb(128,128,128)"/>
<rect x="884.3" y="1064.3" width="61.3" height="30.9" fill="rgb(141,141,141)"/>
<rect x="945.0" y="1064.3" width="182.7" height="30.9" fill="rgb(219,219,219)"/>
<rect x="4.3" y="1094.7" width="91.6" height="30.9" fill="rgb(204,204,204)"/>
<rect x="95.3" y="1094.7" width="30.9" height="30.9" fill="rgb(207,207,207)"/>
<rect x="125.7" y="1094.7" width="61.3" height="30.9" fill="rgb(210,210,210)"/>
<rect x="186.4" y="1094.7" width="30.9" height="30.9" fill="rgb(207,207,207)"/>
<rect x="216.7" y="1094.7" width="30.9" height="30.9" fill="rgb(204,204,204)"/>
<rect x="247.0" y="1094.7" width="30.9" height="30.9" fill="rgb(200,200,200)"/>
<rect x="277.4" y="1094.7" width="61.3" height="30.9" fill="rgb(196,196,196)"/>
<rect x="338.1" y="1094.7" width="30.9" height="30.9" fill="rgb(193,193,193)"/>
<rect x="368.4" y="1094.7" width="30.9" height="30.9" fill="rgb(196,196,196)"/>
<rect x="398.8" y="1094.7" width="122.0" height="30.9" fill="rgb(148,148,148)"/>
<rect x="520.1" y="1094.7" width="30.9" height="30.9" fill="rgb(204,204,204)"/>
<rect x="550.5" y="1094.7" width="30.9" height="30.9" fill="rgb(141,141,141)"/>
<rect x="580.8" y="1094.7" width="30.9" height="30.9" fill="rgb(210,210,210)"/>
<rect x="611.2" y="1094.7" width="30.9" height="30.9" fill="rgb(207,207,207)"/>
<rect x="641.5" y="1094.7" width="30.9" height="30.9" fill="rgb(200,200,200)"/>
<rect x="671.9" y="1094.7" width="30.9" height="30.9" fill="rgb(196,196,196)"/>
<rect x="702.2" y="1094.7" width="30.9" height="30.9" fill="rgb(141,141,141)"/>
<rect x="732.6" y="1094.7" width="91.6" height="30.9" fill="rgb(148,148,148)"/>
<rect x="823.6" y="1094.7" width="30.9" height="30.9" fill="rgb(128,128,128)"/>
<rect x="853.9" y="1094.7" width="30.9" height="30.9" fill="rgb(141,141,141)"/>
<rect x="884.3" y="1094.7" width="61.3" height="30.9" fill="rgb(128,128,128)"/>
<rect x="945.0" y="1094.7" width="182.7" height="30.9" fill="rgb(219,219,219)"/>
<rect x="4.3" y="1125.0" width="122.0" height="30.9" fill="rgb(204,204,204)"/>
<rect x="125.7" y="1125.0" width="30.9" height="30.9" fill="rgb(207,207,207)"/>
<rect x="156.0" y="1125.0" width="30.9" height="30.9" fill="rgb(210,210,210)"/>
<rect x="186.4" y="1125.0" width="152.3" height="30.9" fill="rgb(207,207,207)"/>
<rect x="338.1" y="1125.0" width="30.9" height="30.9" fill="rgb(210,210,210)"/>
<rect x="368.4" y="1125.0" width="30.9" height="30.9" fill="rgb(207,207,207)"/>
<rect x="398.8" y="1125.0" width="30.9" height="30.9" fill="rgb(200,200,200)"/>
<rect x="429.1" y="1125.0" width="30.9" height="30.9" fill="rgb(148,148,148)"/>
<rect x="459.5" y="1125.0" width="61.3" height="30.9" fill="rgb(210,210,210)"/>
<rect x="520.1" y="1125.0" width="607.5" height="30.9" fill="rgb(219,219,219)"/>
<rect x="4.3" y="1155.4" width="1123.4" height="30.9" fill="rgb(219,219,219)"/>
<rect x="4.3" y="1185.7" width="1123.4" height="30.9" fill="rgb(219,219,219)"/>
</g>
<polygon fill="rgb(193,193,193)" points="137.6,97.3 150.4,110.1 158.9,115.8 173.1,120.0 184.5,127.1 193.1,138.5 201.6,149.9 207.3,157.0 215.8,161.3 224.4,164.1 232.9,161.3 238.6,158.5 247.1,164.1 252.8,175.5 264.2,184.1 275.6,189.8 287.0,195.4 301.2,201.1 312.6,206.8 326.8,206.8 335.4,201.1 346.7,192.6 361.0,178.4 372.3,172.7 378.0,175.5 389.4,169.8 403.7,161.3 417.9,153.6 403.7,144.2 389.4,135.7 372.3,127.1 361.0,118.6 349.6,110.1 338.2,101.5 329.7,95.8 136.1,95.8"/>
<polygon fill="rgb(168,168,168)" points="261.4,115.8 269.9,112.9 281.3,124.3 292.7,135.7 301.2,152.8 289.8,149.9 275.6,144.2 264.2,138.5 250.0,145.6 244.3,141.4 258.5,130.0"/>
<polygon fill="rgb(193,193,193)" points="221.5,189.8 235.7,186.9 250.0,195.4 264.2,198.3 281.3,204.0 298.4,206.8 309.7,212.5 321.1,221.1 332.5,229.6 343.9,226.8 352.4,229.6 366.7,232.4 378.0,238.1 378.0,246.7 366.7,246.7 355.3,252.4 349.6,263.7 338.2,269.4 332.5,280.8 321.1,278.0 312.6,275.1 304.0,272.3 295.5,278.0 287.0,269.4 281.3,260.9 269.9,252.4 258.5,243.8 250.0,235.3 241.4,226.8 230.1,221.1 221.5,218.2 220.1,204.0"/>
<polygon fill="rgb(193,193,193)" points="332.5,280.8 343.9,275.1 361.0,266.6 378.0,260.9 392.3,255.2 406.5,250.9 415.0,256.6 406.5,263.7 395.1,269.4 383.7,275.1 366.7,283.7 352.4,292.2 341.0,296.5 332.5,292.2"/>
<polygon fill="rgb(193,193,193)" points="426.4,235.3 435.0,232.4 446.3,226.8 459.4,223.9 459.4,297.9 446.3,292.2 435.0,289.4 435.0,275.1 446.3,269.4 449.2,252.4 440.6,241.0 429.3,241.0"/>
<polygon fill="rgb(189,189,189)" points="90.6,120.0 102.0,117.2 116.2,118.6 127.6,117.2 136.1,121.5 133.3,130.0 121.9,127.1 113.4,135.7 107.7,138.5 96.3,130.0"/>
<polygon fill="rgb(109,109,109)" points="336.8,336.3 346.7,332.0 363.8,336.3 358.1,344.9 343.9,343.4"/>
<polygon fill="rgb(109,109,109)" points="112.0,98.7 124.8,97.3 121.9,107.2 113.4,108.7"/>
<polygon fill="rgb(193,193,193)" points="562.7,448.9 573.4,443.5 580.6,438.1 584.2,432.8 591.3,427.4 600.3,425.6 602.0,431.0 598.5,436.3 611.0,443.5 616.4,432.8 623.5,431.0 634.2,432.8 641.4,438.1 634.2,443.5 630.7,448.9 637.8,454.2 646.7,459.6 652.1,464.9 659.3,472.1 655.7,475.7 645.0,472.1 637.8,468.5 630.7,470.3 619.9,472.1 611.0,468.5 602.0,466.7 591.3,466.7 582.4,464.9 587.7,457.8 580.6,450.6 569.9,452.4"/>
<polygon fill="rgb(193,193,193)" points="652.1,486.4 661.1,479.3 670.0,477.5 682.5,481.0 691.5,488.2 698.6,493.6 696.8,498.9 687.9,498.9 677.1,495.3 666.4,493.6 655.7,491.8"/>
<polygon fill="rgb(193,193,193)" points="678.9,468.5 686.1,466.7 695.0,472.1 689.7,477.5 680.7,475.7"/>
<polygon fill="rgb(193,193,193)" points="668.2,513.2 677.1,511.4 687.9,518.6 696.8,525.7 700.4,532.9 695.0,538.3 687.9,532.9 678.9,525.7 671.8,522.2"/>
<polygon fill="rgb(193,193,193)" points="723.0,399.6 736.1,397.0 746.6,399.6 744.0,412.7 746.6,423.2 738.7,425.8 728.2,412.7"/>
<polygon fill="rgb(193,193,193)" points="767.6,425.8 775.4,423.2 780.7,431.1 780.7,439.0 772.8,436.3"/>
<polygon fill="rgb(193,193,193)" points="725.6,525.5 736.1,528.1 744.0,538.6 749.2,554.3 741.3,554.3 730.8,541.2"/>
<polygon fill="rgb(193,193,193)" points="780.7,541.2 796.4,538.6 801.7,525.5 814.8,522.9 825.3,528.1 825.3,541.2 820.0,551.7 806.9,554.3 799.0,562.2 788.5,559.6 783.3,551.7"/>
<polygon fill="rgb(193,193,193)" points="809.5,496.7 817.4,496.7 822.6,507.1 817.4,512.4 812.1,507.1"/>
<polygon fill="rgb(193,193,193)" points="682.1,317.8 708.0,296.2 725.3,300.5 733.9,322.1 725.3,339.4 742.6,343.7 759.9,339.4 772.9,330.8 781.5,369.7 764.2,369.7 751.2,382.7 742.6,404.3 746.9,425.9 729.6,421.6 725.3,395.6 725.3,369.7 708.0,352.4 690.7,343.7"/>
<polygon fill="rgb(109,109,109)" points="556.7,304.8 582.7,300.5 604.3,317.8 621.6,326.5 643.2,339.4 656.1,361.0 647.5,369.7 630.2,356.7 612.9,343.7 587.0,330.8 565.4,322.1"/>
<polygon fill="rgb(89,89,89)" points="634.5,341.6 643.2,339.4 649.7,352.4 643.2,356.7"/>
<polygon fill="rgb(193,193,193)" points="136.1,396.9 141.8,386.1 156.1,377.6 173.1,370.5 187.4,366.2 201.6,363.4 224.4,357.7 241.4,353.4 258.5,359.1 275.6,366.2 289.8,373.3 292.7,386.1 281.3,396.9"/>
<polygon fill="rgb(193,193,193)" points="136.1,359.1 150.4,353.4 161.8,356.2 156.1,360.5 141.8,361.9"/>
<polygon fill="rgb(193,193,193)" points="227.7,655.1 245.2,657.6 265.2,670.1 285.2,680.1 285.2,692.6 272.7,687.6 255.2,677.6 240.2,670.1 230.2,662.6"/>
<polygon fill="rgb(193,193,193)" points="210.1,792.7 220.1,790.2 222.6,800.2 215.1,815.2 210.1,807.7"/>
<polygon fill="rgb(193,193,193)" points="265.2,807.7 285.2,805.2 302.7,800.2 315.2,797.7 322.7,807.7 305.2,812.7 287.7,815.2 280.2,825.2 270.2,817.7"/>
<polygon fill="rgb(193,193,193)" points="247.7,835.3 262.7,835.3 270.2,847.8 265.2,865.3 255.2,870.3 245.2,860.3"/>
<polygon fill="rgb(193,193,193)" points="275.2,837.8 287.7,837.8 292.7,850.3 285.2,867.8 277.7,867.8"/>
<polygon fill="rgb(109,109,109)" points="541.4,93.0 541.4,95.3 527.6,102.2 509.2,111.4 497.6,118.4 493.0,127.6 486.1,139.1 479.2,155.2 474.6,169.1 467.7,185.2 486.1,185.2 504.6,178.3 520.7,173.7 536.8,169.1 550.7,164.5 569.1,159.9 587.6,152.9 601.4,141.4 610.6,139.1 624.4,146.0 633.7,157.6 640.6,171.4 642.9,185.2 659.0,182.9 670.5,180.6 684.4,173.7 693.6,171.4 707.4,178.3 721.3,185.2 730.5,194.4 739.7,201.4 748.9,203.7 760.0,201.4 760.0,93.0"/>
<polygon fill="rgb(89,89,89)" points="548.4,93.0 548.4,95.3 536.8,102.2 516.1,109.1 502.2,118.4 497.6,129.9 493.0,143.7 488.4,157.6 486.1,171.4 499.9,171.4 516.1,166.8 532.2,162.2 546.1,159.9 562.2,155.2 578.3,150.6 596.8,141.4 606.0,136.8 615.2,136.8 624.4,139.1 633.7,146.0 640.6,157.6 647.5,169.1 665.9,171.4 679.8,169.1 691.3,169.1 702.8,173.7 716.7,180.6 728.2,187.5 739.7,194.4 760.0,194.4 760.0,93.0"/>
<polygon fill="rgb(71,71,71)" points="569.1,95.3 532.2,104.5 516.1,118.4 504.6,132.2 499.9,150.6 516.1,148.3 536.8,143.7 555.3,141.4 573.7,139.1 589.9,136.8 601.4,132.2 610.6,127.6 624.4,125.3 642.9,127.6 659.0,127.6 670.5,129.9 677.5,139.1 677.5,152.9 670.5,162.2 682.1,169.1 705.1,171.4 728.2,176.0 748.9,182.9 760.0,182.9 760.0,99.9 739.7,102.2 716.7,106.8 693.6,106.8 670.5,109.1 647.5,109.1 624.4,106.8 619.8,99.9 601.4,95.3"/>
<polygon fill="rgb(57,57,57)" points="513.8,134.5 527.6,127.6 543.7,120.7 559.9,113.7 578.3,109.1 592.2,106.8 606.0,106.8 610.6,111.4 608.3,123.0 606.0,132.2 589.9,134.5 569.1,134.5 550.7,138.0 532.2,139.1 516.1,140.3"/>
<polygon fill="rgb(57,57,57)" points="684.4,148.3 698.2,143.7 712.0,139.1 725.9,132.2 739.7,136.8 760.0,141.4 760.0,155.2 746.6,162.2 735.1,166.8 721.3,166.8 707.4,166.8 693.6,166.8 684.4,162.2"/>
<polygon fill="rgb(47,47,47)" points="691.3,152.9 700.5,148.3 707.4,150.6 705.1,159.9 693.6,162.2"/>
<polygon fill="rgb(57,57,57)" points="624.4,120.7 638.3,118.4 638.3,123.0 626.7,124.1"/>
<polygon fill="rgb(193,193,193)" points="446.9,235.9 460.7,226.7 472.3,212.9 486.1,210.6 495.3,217.5 506.9,208.3 527.6,208.3 532.2,217.5 523.0,222.1 518.4,231.3 509.2,235.9 499.9,245.2 486.1,240.6 474.6,242.9 463.1,249.8 453.8,254.4 446.9,245.2"/>
<polygon fill="rgb(193,193,193)" points="541.4,212.9 555.3,212.9 573.7,215.2 587.6,222.1 596.8,226.7 592.2,235.9 601.4,245.2 596.8,259.0 585.2,268.2 569.1,275.1 559.9,272.8 555.3,259.0 564.5,245.2 569.1,235.9 555.3,231.3 543.7,226.7"/>
<polygon fill="rgb(193,193,193)" points="440.0,272.8 453.8,268.2 467.7,277.4 463.1,291.3 453.8,300.0 440.0,300.0"/>
<polygon fill="rgb(109,109,109)" points="661.3,268.2 675.2,263.6 689.0,270.5 702.8,277.4 698.2,284.4 684.4,284.4 670.5,279.7"/>
<polygon fill="rgb(89,89,89)" points="740.0,93.0 1034.7,93.0 1028.7,165.2 1021.5,261.4 1016.7,333.6 1011.9,393.7 1007.0,419.9 932.5,419.9 944.5,405.8 944.5,381.7 932.5,369.7 908.4,357.6 884.3,352.8 860.3,352.8 841.0,345.6 836.2,328.8 831.4,309.5 812.2,290.3 788.1,275.8 776.1,266.2 740.0,271.0"/>
<polygon fill="rgb(109,109,109)" points="812.2,153.1 831.4,141.1 855.5,129.1 865.1,107.4 884.3,102.6 908.4,100.2 932.5,100.2 944.5,105.0 946.9,148.3 937.3,155.6 922.8,165.2 908.4,177.2 896.4,194.0 884.3,206.1 865.1,210.9 848.3,206.1 836.2,194.0 821.8,184.4 809.8,172.4"/>
<polygon fill="rgb(109,109,109)" points="944.5,100.2 1028.7,97.8 1028.7,145.9 1004.6,148.3 980.6,155.6 956.5,160.4 944.5,150.7"/>
<polygon fill="rgb(109,109,109)" points="740.0,198.9 754.4,203.7 768.9,213.3 788.1,208.5 800.1,208.5 788.1,196.4 771.3,189.2 754.4,194.0"/>
<polygon fill="rgb(109,109,109)" points="879.5,261.4 896.4,251.8 913.2,247.0 932.5,256.6 939.7,275.8 927.7,285.5 913.2,283.1 894.0,275.8"/>
<polygon fill="rgb(109,109,109)" points="942.1,280.7 956.5,275.8 975.8,283.1 995.0,283.1 1016.7,285.5 1016.7,321.5 1004.6,324.0 990.2,333.6 980.6,355.2 968.5,362.4 951.7,360.0 942.1,348.0 937.3,324.0 939.7,299.9"/>
<polygon fill="rgb(109,109,109)" points="776.1,266.2 812.2,261.4 831.4,275.8 848.3,290.3 860.3,304.7 841.0,309.5 831.4,299.9 812.2,285.5 788.1,275.8"/>
<polygon fill="rgb(134,134,134)" points="894.0,119.5 908.4,114.7 922.8,117.1 944.5,107.4 956.5,100.2 980.6,97.8 1004.6,100.2 1028.7,105.0 1028.7,141.1 1004.6,138.7 980.6,133.9 961.3,141.1 946.9,136.3 932.5,148.3 922.8,141.1 908.4,133.9 898.8,126.7"/>
<polygon fill="rgb(134,134,134)" points="853.1,158.0 865.1,150.7 879.5,148.3 894.0,155.6 908.4,165.2 913.2,174.8 903.6,184.4 894.0,189.2 879.5,194.0 869.9,189.2 860.3,177.2"/>
<polygon fill="rgb(134,134,134)" points="841.0,227.7 850.7,222.9 865.1,225.3 877.1,232.5 874.7,239.8 860.3,239.8 845.9,234.9"/>
<polygon fill="rgb(134,134,134)" points="908.4,261.4 920.4,259.0 927.7,271.0 922.8,280.7 913.2,278.2"/>
<polygon fill="rgb(134,134,134)" points="975.8,292.7 987.8,287.9 1004.6,292.7 1016.7,299.9 1016.7,314.3 999.8,314.3 980.6,309.5"/>
<polygon fill="rgb(134,134,134)" points="946.9,319.1 961.3,314.3 975.8,316.7 980.6,328.8 978.2,345.6 968.5,357.6 951.7,352.8 944.5,338.4"/>
<polygon fill="rgb(134,134,134)" points="740.0,203.7 749.6,201.3 754.4,213.3 744.8,222.9 740.0,220.5"/>
<polygon fill="rgb(89,89,89)" points="983.0,331.2 997.4,324.0 1014.3,321.5 1011.9,393.7 995.0,391.3 980.6,381.7 978.2,357.6"/>
<polygon fill="rgb(71,71,71)" points="740.0,114.7 754.4,112.2 768.9,117.1 778.5,129.1 788.1,141.1 800.1,148.3 795.3,158.0 776.1,160.4 764.1,165.2 752.0,172.4 740.0,174.8"/>
<polygon fill="rgb(71,71,71)" points="740.0,97.8 754.4,95.4 768.9,97.8 783.3,102.6 800.1,100.2 812.2,97.8 836.2,100.2 845.9,107.4 831.4,112.2 812.2,114.7 800.1,117.1 788.1,114.7 771.3,107.4 754.4,107.4 740.0,107.4"/>
<polygon fill="rgb(71,71,71)" points="740.0,227.7 754.4,218.1 776.1,210.9 800.1,213.3 819.4,220.5 841.0,230.1 855.5,237.3 848.3,247.0 831.4,251.8 812.2,256.6 788.1,259.0 764.1,263.8 740.0,266.2"/>
<polygon fill="rgb(71,71,71)" points="884.3,218.1 903.6,213.3 920.4,218.1 937.3,227.7 944.5,237.3 932.5,247.0 913.2,242.2 896.4,232.5"/>
<polygon fill="rgb(71,71,71)" points="922.8,194.0 932.5,182.0 944.5,167.6 956.5,158.0 980.6,153.1 1004.6,148.3 1028.7,145.9 1023.9,261.4 1021.5,297.5 1004.6,290.3 980.6,283.1 963.7,275.8 951.7,271.0 946.9,261.4 951.7,247.0 946.9,227.7 937.3,213.3 927.7,203.7"/>
<polygon fill="rgb(71,71,71)" points="838.6,319.1 848.3,311.9 865.1,309.5 884.3,314.3 894.0,326.4 889.2,338.4 874.7,348.0 855.5,350.4 841.0,343.2"/>
<polygon fill="rgb(71,71,71)" points="944.5,362.4 961.3,360.0 980.6,364.9 999.8,369.7 1011.9,376.9 1009.4,386.5 992.6,388.9 971.0,384.1 951.7,381.7"/>
<polygon fill="rgb(57,57,57)" points="946.9,179.6 968.5,172.4 992.6,167.6 1016.7,162.8 1028.7,162.8 1023.9,285.5 1004.6,283.1 985.4,275.8 968.5,266.2 956.5,256.6 956.5,237.3 951.7,218.1 946.9,201.3"/>
<polygon fill="rgb(57,57,57)" points="740.0,165.2 749.6,162.8 754.4,170.0 744.8,172.4"/>
<polygon fill="rgb(57,57,57)" points="764.1,237.3 776.1,232.5 792.9,230.1 807.4,237.3 802.6,244.6 783.3,247.0 768.9,244.6"/>
<polygon fill="rgb(57,57,57)" points="845.9,328.8 855.5,321.5 869.9,324.0 874.7,333.6 865.1,343.2 850.7,340.8"/>
<polygon fill="rgb(47,47,47)" points="961.3,198.9 975.8,191.6 995.0,186.8 1009.4,184.4 1023.9,182.0 1023.9,208.5 1004.6,213.3 985.4,220.5 971.0,222.9 963.7,213.3"/>
<polygon fill="rgb(47,47,47)" points="985.4,266.2 999.8,261.4 1019.1,259.0 1019.1,283.1 1004.6,283.1 990.2,278.2"/>
<polygon fill="rgb(47,47,47)" points="855.5,336.0 862.7,333.6 867.5,340.8 860.3,343.2"/>
<polygon fill="rgb(109,109,109)" points="689.0,235.9 705.1,222.1 728.2,212.9 760.0,206.0 760.0,282.0 728.2,284.4 705.1,277.4 691.3,259.0"/>
<polygon fill="rgb(89,89,89)" points="707.4,235.9 728.2,224.4 760.0,217.5 760.0,277.4 728.2,275.1 712.0,263.6"/>
<polygon fill="rgb(71,71,71)" points="723.6,240.6 739.7,231.3 760.0,226.7 760.0,268.2 739.7,268.2 725.9,259.0"/>
<polygon fill="rgb(109,109,109)" points="350.0,575.1 380.0,535.1 420.1,510.0 460.1,495.0 495.1,505.0 530.2,490.0 555.2,510.0 590.2,510.0 620.2,535.1 640.2,560.1 670.3,575.1 695.3,590.1 715.3,610.1 740.3,625.1 760.3,615.1 780.3,595.1 800.3,575.1 820.4,555.1 845.4,550.1 870.4,560.1 895.4,565.1 920.4,560.1 945.5,535.1 965.5,510.0 985.5,490.0 1008.0,475.0 1008.0,685.2 995.5,685.2 970.5,695.2 950.5,720.2 940.4,760.2 945.5,810.3 940.4,850.3 920.4,885.3 910.4,910.3 905.4,935.3 880.4,960.4 850.4,985.4 830.4,1010.4 820.4,1035.4 800.3,1050.4 820.4,1075.4 845.4,1090.5 870.4,1100.5 850.4,1110.5 815.4,1100.5 790.3,1075.4 760.3,1060.4 730.3,1050.4 700.3,1040.4 670.3,1040.4 650.2,1030.4 640.2,1010.4 650.2,990.4 630.2,980.4 610.2,960.4 580.2,940.3 555.2,910.3 530.2,880.3 515.1,850.3 490.1,820.3 470.1,800.2 460.1,810.3 455.1,840.3 450.1,870.3 440.1,895.3 430.1,920.3 435.1,960.4 445.1,1000.4 455.1,1035.4 470.1,1070.4 465.1,1100.5 445.1,1120.5 420.1,1120.5 395.1,1100.5 375.0,1050.4 360.0,1000.4 345.0,950.4 330.0,910.3 325.0,860.3 330.0,810.3 340.0,760.2 335.0,710.2 330.0,670.2 335.0,625.1 345.0,595.1"/>
<polygon fill="rgb(89,89,89)" points="370.0,590.1 410.1,560.1 445.1,545.1 465.1,515.0 495.1,510.0 530.2,510.0 560.2,520.0 590.2,525.0 620.2,555.1 645.2,575.1 670.3,590.1 695.3,605.1 715.3,625.1 735.3,610.1 760.3,605.1 785.3,590.1 810.4,575.1 840.4,570.1 870.4,565.1 900.4,575.1 930.4,585.1 960.5,580.1 980.5,590.1 995.5,610.1 993.0,685.2 960.5,700.2 940.4,730.2 930.4,770.2 920.4,810.3 910.4,850.3 880.4,870.3 860.4,900.3 845.4,930.3 820.4,940.3 805.4,960.4 790.3,985.4 770.3,1000.4 730.3,1005.4 700.3,1000.4 670.3,990.4 645.2,970.4 620.2,950.4 590.2,930.3 570.2,910.3 550.2,885.3 530.2,860.3 510.1,830.3 490.1,810.3 470.1,790.2 455.1,800.2 440.1,810.3 420.1,830.3 410.1,860.3 405.1,890.3 405.1,920.3 410.1,950.4 420.1,985.4 435.1,1025.4 450.1,1060.4 450.1,1090.5 430.1,1100.5 410.1,1085.5 390.1,1050.4 375.0,1010.4 360.0,960.4 350.0,910.3 345.0,860.3 350.0,810.3 345.0,760.2 350.0,710.2 360.0,660.1 360.0,620.1"/>
<polygon fill="rgb(71,71,71)" points="435.1,610.1 470.1,575.1 500.1,560.1 530.2,550.1 560.2,545.1 590.2,555.1 620.2,570.1 650.2,580.1 680.3,595.1 700.3,610.1 720.3,635.1 730.3,670.2 735.3,710.2 745.3,740.2 760.3,730.2 770.3,710.2 790.3,705.2 810.4,700.2 820.4,680.2 825.4,650.1 830.4,620.1 825.4,595.1 845.4,580.1 870.4,570.1 900.4,580.1 930.4,590.1 960.5,590.1 985.5,610.1 993.0,630.1 990.5,670.2 965.5,685.2 945.5,700.2 935.4,730.2 920.4,760.2 905.4,790.2 880.4,810.3 860.4,830.3 845.4,860.3 835.4,890.3 830.4,920.3 805.4,925.3 770.3,910.3 745.3,900.3 720.3,890.3 700.3,875.3 670.3,860.3 640.2,850.3 610.2,840.3 580.2,830.3 550.2,820.3 520.1,810.3 490.1,805.3 460.1,805.3 436.1,800.2 424.1,791.7 421.1,776.7 412.6,762.2 409.6,750.2 397.6,738.7 383.0,738.7 375.5,729.7 380.0,717.7 392.1,709.2 406.6,700.2 418.6,688.7 421.1,676.7 433.1,669.2 439.1,662.1 433.1,656.1 430.1,647.1 439.1,638.6 442.1,629.6 439.1,617.6 450.6,609.1"/>
<polygon fill="rgb(71,71,71)" points="350.0,920.3 365.0,910.3 385.0,940.3 405.1,980.4 420.1,1015.4 435.1,1050.4 445.1,1085.5 435.1,1100.5 420.1,1090.5 405.1,1060.4 385.0,1025.4 370.0,990.4 360.0,955.4"/>
<polygon fill="rgb(109,109,109)" points="730.3,610.1 750.3,625.1 755.3,660.1 750.3,695.2 745.3,730.2 735.3,740.2 727.8,700.2 725.3,660.1"/>
<polygon fill="rgb(109,109,109)" points="760.3,640.1 780.3,630.1 800.3,640.1 805.4,670.2 790.3,695.2 770.3,690.2 760.3,670.2"/>
<polygon fill="rgb(134,134,134)" points="771.0,645.0 790.0,640.0 806.0,650.0 806.0,675.0 795.0,688.0 775.0,685.0 768.0,665.0"/>
<polygon fill="rgb(134,134,134)" points="815.0,700.0 835.0,697.0 846.0,712.0 842.0,732.0 825.0,735.0 815.0,720.0"/>
<polygon fill="rgb(134,134,134)" points="905.0,655.0 925.0,650.0 935.0,665.0 925.0,680.0 908.0,675.0"/>
<polygon fill="rgb(57,57,57)" points="825.4,610.1 850.4,595.1 875.4,590.1 900.4,600.1 910.4,620.1 890.4,640.1 870.4,660.1 850.4,670.2 830.4,660.1"/>
<polygon fill="rgb(57,57,57)" points="920.4,660.1 950.5,655.1 965.5,670.2 950.5,690.2 925.4,685.2"/>
<polygon fill="rgb(37,37,37)" points="870.4,605.1 885.4,602.6 890.4,615.1 875.4,620.1"/>
<polygon fill="rgb(57,57,57)" points="447.7,631.5 466.1,622.2 486.9,615.3 500.7,608.4 516.8,599.2 528.4,587.7 542.2,578.4 558.3,573.8 581.4,576.1 599.8,573.8 618.3,576.1 627.5,573.8 641.3,578.4 659.8,583.1 673.6,596.9 687.4,608.4 703.6,622.2 717.4,631.5 726.6,643.0 728.9,659.1 726.6,675.3 724.3,693.7 726.6,721.4 728.9,744.4 724.3,762.9 715.1,776.7 703.6,788.2 696.7,797.5 685.1,809.0 669.0,815.9 650.5,818.2 632.1,813.6 618.3,809.0 604.4,804.4 590.6,799.8 576.8,792.9 562.9,785.9 549.1,779.0 535.3,772.1 521.4,765.2 507.6,760.6 493.8,756.0 479.9,751.4 466.1,744.4 452.3,735.2 438.4,721.4 426.9,707.6 422.3,689.1 426.9,670.7 433.8,652.2 443.1,638.4"/>
<polygon fill="rgb(47,47,47)" points="429.2,698.3 433.8,689.1 447.7,675.3 461.5,666.1 479.9,652.2 493.8,636.1 507.6,624.6 521.4,613.0 528.4,599.2 537.6,585.4 553.7,580.7 572.2,583.1 586.0,580.7 604.4,583.1 618.3,580.7 632.1,578.4 648.2,585.4 664.4,592.3 678.2,606.1 692.0,617.6 705.9,626.9 717.4,638.4 722.0,656.8 719.7,675.3 717.4,698.3 719.7,721.4 722.0,744.4 719.7,756.0 708.2,767.5 696.7,779.0 692.0,790.5 680.5,799.8 666.7,804.4 650.5,809.0 632.1,804.4 618.3,795.2 602.1,785.9 586.0,776.7 572.2,767.5 558.3,758.3 544.5,751.4 530.7,744.4 512.2,744.4 496.1,749.0 484.6,744.4 473.0,735.2 459.2,730.6 447.7,726.0 438.4,721.4 431.5,712.2"/>
<polygon fill="rgb(37,37,37)" points="460.3,689.1 473.0,670.7 489.2,659.1 507.6,649.9 519.1,643.0 523.7,629.2 527.2,613.0 530.7,599.2 537.6,587.7 558.3,581.9 581.4,585.4 602.1,588.8 620.6,585.4 639.0,588.8 652.9,596.9 666.7,606.1 680.5,615.3 696.7,624.6 710.5,633.8 717.4,647.6 719.7,668.4 716.3,689.1 715.1,712.2 713.9,735.2 705.9,749.0 692.0,758.3 673.6,764.0 657.5,761.7 641.3,756.0 627.5,749.0 616.0,739.8 611.4,726.0 609.0,712.2 604.4,698.3 597.5,702.9 590.6,719.1 581.4,721.4 572.2,719.1 558.3,714.5 539.9,712.2 523.7,713.3 507.6,719.1 493.8,719.1 479.9,714.5 466.1,709.9"/>
<polygon fill="rgb(47,47,47)" points="489.2,679.9 505.3,676.4 516.8,682.2 519.1,698.3 509.9,707.6 496.1,707.6 489.2,696.0"/>
<polygon fill="rgb(30,30,30)" points="530.7,599.2 539.9,587.7 553.7,583.1 567.6,585.4 581.4,590.0 586.0,599.2 602.1,596.9 618.3,594.6 634.4,596.9 648.2,601.5 662.1,606.1 673.6,617.6 685.1,624.6 696.7,629.2 705.9,633.8 712.8,643.0 717.4,652.2 712.8,663.7 705.9,675.3 701.3,689.1 692.0,689.1 678.2,686.8 669.0,679.9 659.8,682.2 650.5,679.9 641.3,682.2 627.5,684.5 616.0,689.1 604.4,686.8 595.2,685.6 581.4,686.8 569.9,689.1 560.6,691.4 551.4,686.8 539.9,682.2 530.7,677.6 526.1,668.4 521.4,659.1 519.1,647.6 523.7,636.1 526.1,622.2 528.4,610.7"/>
<polygon fill="rgb(30,30,30)" points="634.4,714.5 641.3,716.8 650.5,723.7 664.4,728.3 675.9,731.8 673.6,737.5 659.8,742.1 650.5,746.7 639.0,742.1 629.8,732.9 627.5,728.3 632.1,721.4"/>
<polygon fill="rgb(14,14,14)" points="537.6,603.8 544.5,596.9 556.0,595.7 560.6,606.1 567.6,617.6 576.8,631.5 581.4,638.4 576.8,643.0 562.9,645.3 551.4,647.6 542.2,651.1 539.9,643.0 544.5,636.1 541.0,624.6 538.7,613.0"/>
<polygon fill="rgb(14,14,14)" points="579.1,610.7 586.0,606.1 592.9,603.8 595.2,610.7 590.6,617.6 595.2,626.9 604.4,631.5 613.7,633.8 618.3,624.6 618.3,608.4 620.6,617.6 622.9,636.1 632.1,629.2 636.7,613.0 639.0,622.2 641.3,631.5 650.5,633.8 655.2,626.9 659.8,629.2 662.1,636.1 662.1,645.3 655.2,649.9 650.5,654.5 643.6,659.1 641.3,668.4 636.7,673.0 632.1,668.4 629.8,659.1 622.9,652.2 613.7,649.9 604.4,647.6 597.5,645.3 590.6,638.4 583.7,633.8 579.1,624.6"/>
<polygon fill="rgb(89,89,89)" points="725.3,642.1 756.2,633.2 800.4,628.8 826.9,637.7 844.6,653.1 833.5,675.2 822.5,697.3 844.6,708.3 862.2,712.7 866.7,730.4 844.6,734.8 822.5,743.7 804.8,756.9 782.7,767.9 765.1,763.5 760.7,752.5 782.7,743.7 796.0,734.8 791.6,721.6 773.9,712.7 756.2,717.2 734.2,726.0 723.1,708.3 725.3,675.2"/>
<polygon fill="rgb(89,89,89)" points="866.7,712.7 888.7,703.9 910.8,703.9 932.9,708.3 955.0,703.9 970.0,686.2 970.0,730.4 943.9,734.8 932.9,748.1 921.9,763.5 910.8,774.6 902.0,763.5 897.6,752.5 888.7,743.7 877.7,734.8"/>
<polygon fill="rgb(89,89,89)" points="725.3,790.0 745.2,787.8 765.1,792.2 782.7,796.7 800.4,803.3 804.8,818.7 813.7,836.4 831.3,845.2 849.0,849.7 866.7,840.8 877.7,832.0 888.7,832.0 899.8,840.8 910.8,840.8 932.9,836.4 943.9,840.8 943.9,920.1 822.5,920.1 813.7,896.0 804.8,880.6 796.0,871.7 782.7,858.5 773.9,847.4 773.9,836.4 787.2,832.0 785.0,818.7 769.5,814.3 756.2,818.7 743.0,814.3 727.5,807.7"/>
<polygon fill="rgb(89,89,89)" points="690.0,873.9 712.1,880.6 725.3,885.0 734.2,907.1 745.2,920.1 690.0,920.1"/>
<polygon fill="rgb(109,109,109)" points="729.7,646.5 751.8,642.1 778.3,642.1 804.8,639.9 826.9,642.1 835.7,655.3 822.5,675.2 813.7,690.7 813.7,708.3 822.5,737.0 809.2,734.8 800.4,717.2 782.7,708.3 765.1,712.7 751.8,708.3 738.6,703.9 732.0,686.2"/>
<polygon fill="rgb(109,109,109)" points="740.8,794.4 756.2,792.2 767.3,801.1 769.5,814.3 760.7,814.3 749.6,805.5"/>
<polygon fill="rgb(109,109,109)" points="822.5,845.2 840.2,847.4 849.0,858.5 835.7,858.5"/>
<polygon fill="rgb(109,109,109)" points="844.6,882.8 862.2,876.2 884.3,873.9 902.0,879.5 919.7,886.1 932.9,894.9 943.9,907.1 943.9,920.1 844.6,920.1"/>
<polygon fill="rgb(109,109,109)" points="897.6,779.0 910.8,774.6 932.9,779.0 943.9,792.2 943.9,840.8 932.9,836.4 921.9,829.8 910.8,829.8 899.8,818.7 893.2,801.1"/>
<polygon fill="rgb(134,134,134)" points="751.8,653.1 762.9,650.9 782.7,657.5 796.0,655.3 809.2,648.7 822.5,648.7 826.9,659.7 813.7,668.6 800.4,679.6 791.6,686.2 778.3,684.0 769.5,692.9 760.7,699.5 756.2,690.7 765.1,681.8 756.2,670.8"/>
<polygon fill="rgb(134,134,134)" points="813.7,697.3 826.9,695.1 844.6,701.7 849.0,715.0 840.2,726.0 831.3,734.8 822.5,732.6 818.1,717.2"/>
<polygon fill="rgb(57,57,57)" points="804.8,796.7 818.1,787.8 835.7,787.8 849.0,796.7 866.7,796.7 884.3,803.3 888.7,814.3 871.1,818.7 853.4,814.3 835.7,809.9 822.5,807.7 809.2,805.5"/>
<polygon fill="rgb(47,47,47)" points="813.7,794.4 822.5,790.0 833.5,792.2 835.7,803.3 826.9,809.9 815.9,805.5"/>
<polygon fill="rgb(37,37,37)" points="820.3,794.4 826.9,793.3 828.0,800.0 821.4,801.1"/>
<polygon fill="rgb(57,57,57)" points="754.0,860.7 767.3,858.5 780.5,862.9 782.7,871.7 771.7,876.2 756.2,873.9"/>
<polygon fill="rgb(57,57,57)" points="754.0,723.8 767.3,734.8 769.5,743.7 762.9,752.5 754.0,743.7"/>
<polygon fill="rgb(134,134,134)" points="372.7,529.9 382.3,524.2 391.8,529.9 399.5,539.5 391.8,547.1 380.4,543.3"/>
<polygon fill="rgb(134,134,134)" points="357.4,558.6 368.9,552.9 380.4,554.8 388.0,562.4 380.4,570.1 365.0,570.1"/>
<polygon fill="rgb(134,134,134)" points="382.3,573.9 395.7,572.0 411.0,573.9 418.6,581.6 407.1,589.2 391.8,587.3"/>
<polygon fill="rgb(134,134,134)" points="372.7,593.1 384.2,591.1 395.7,596.9 399.5,604.5 389.9,610.3 376.5,606.4"/>
<polygon fill="rgb(134,134,134)" points="338.3,608.4 349.7,604.5 357.4,612.2 353.6,623.7 342.1,623.7"/>
<polygon fill="rgb(134,134,134)" points="403.3,604.5 414.8,602.6 422.4,608.4 418.6,616.0 407.1,616.0"/>
<polygon fill="rgb(134,134,134)" points="363.1,623.7 376.5,621.8 384.2,629.4 380.4,639.0 367.0,637.1"/>
<polygon fill="rgb(134,134,134)" points="328.7,631.3 340.2,629.4 344.0,639.0 334.4,646.6 326.8,640.9"/>
<polygon fill="rgb(134,134,134)" points="395.7,619.8 407.1,619.8 411.0,627.5 403.3,633.2 393.7,629.4"/>
<polygon fill="rgb(134,134,134)" points="344.0,650.4 355.5,648.5 361.2,658.1 353.6,665.8 344.0,661.9"/>
<polygon fill="rgb(134,134,134)" points="372.7,650.4 382.3,648.5 388.0,656.2 380.4,661.9 370.8,660.0"/>
<polygon fill="rgb(134,134,134)" points="407.1,520.4 418.6,516.5 430.1,522.3 433.9,531.8 424.4,535.7 412.9,531.8"/>
<polygon fill="rgb(134,134,134)" points="426.3,497.4 437.7,493.6 445.4,503.1 437.7,510.8 428.2,507.0"/>
<polygon fill="rgb(134,134,134)" points="414.8,547.1 426.3,543.3 437.7,547.1 433.9,554.8 422.4,556.7"/>
<polygon fill="rgb(134,134,134)" points="464.5,581.6 476.0,579.7 479.8,587.3 472.2,591.1 464.5,589.2"/>
<polygon fill="rgb(109,109,109)" points="411.0,489.7 422.4,487.8 433.9,497.4 430.1,503.1 418.6,499.3"/>
<polygon fill="rgb(109,109,109)" points="426.3,480.2 437.7,478.3 445.4,489.7 439.7,495.5 432.0,489.7"/>
<polygon fill="rgb(109,109,109)" points="456.9,474.4 468.4,476.4 464.5,485.9 456.9,484.0"/>
<polygon fill="rgb(109,109,109)" points="487.5,466.8 499.0,463.0 506.6,474.4 499.0,482.1 489.4,478.3"/>
<polygon fill="rgb(109,109,109)" points="368.9,524.2 376.5,522.3 382.3,531.8 376.5,539.5 370.8,535.7"/>
<polygon fill="rgb(14,14,14)" points="596.8,632.6 621.0,632.6 631.4,629.2 652.2,629.2 660.8,632.6 660.8,643.0 652.2,653.4 638.3,663.7 631.4,656.8 621.0,649.9 607.2,646.5 598.6,641.3"/>
<polygon fill="rgb(14,14,14)" points="603.7,625.7 610.7,617.1 617.6,611.9 621.0,625.7 614.1,632.6"/>
<polygon fill="rgb(148,148,148)" points="907.4,441.2 913.2,443.2 926.6,456.6 941.9,464.2 957.2,470.0 974.4,470.0 1003.1,466.1 1003.1,571.4 991.6,571.4 984.0,575.2 964.8,581.0 949.5,586.7 938.0,579.0 930.4,573.3 913.2,571.4 907.4,569.5"/>
<polygon fill="rgb(109,109,109)" points="861.5,404.9 878.7,403.0 897.8,406.8 913.2,403.0 932.3,404.9 945.7,397.2 964.8,395.3 984.0,397.2 1008.9,395.3 1008.9,468.0 999.3,464.2 987.8,470.0 972.5,460.4 957.2,456.6 945.7,452.7 938.0,443.2 930.4,437.4 915.1,437.4 907.4,431.7 899.8,424.0 888.3,420.2 873.0,418.3 861.5,416.4"/>
<polygon fill="rgb(89,89,89)" points="869.1,410.6 880.6,406.8 895.9,408.7 903.6,418.3 892.1,424.0 878.7,422.1"/>
<polygon fill="rgb(89,89,89)" points="945.7,427.8 957.2,425.9 972.5,433.6 984.0,443.2 995.5,448.9 1003.1,456.6 995.5,462.3 980.1,456.6 964.8,448.9 949.5,441.2"/>
<polygon fill="rgb(89,89,89)" points="964.8,399.1 980.1,397.2 995.5,403.0 1003.1,412.5 995.5,418.3 980.1,414.4 968.7,408.7"/>
<polygon fill="rgb(71,71,71)" points="878.7,412.5 888.3,410.6 894.0,418.3 884.4,422.1"/>
<polygon fill="rgb(71,71,71)" points="949.5,431.7 961.0,431.7 972.5,441.2 964.8,445.1 953.3,439.3"/>
<polygon fill="rgb(71,71,71)" points="974.4,404.9 987.8,403.0 995.5,410.6 984.0,414.4"/>
<polygon fill="rgb(71,71,71)" points="984.0,437.4 995.5,441.2 1001.2,452.7 991.6,452.7"/>
<polygon fill="rgb(57,57,57)" points="945.7,401.1 964.8,399.1 972.5,406.8 961.0,412.5 949.5,412.5"/>
<polygon fill="rgb(37,37,37)" points="932.3,410.6 941.9,408.7 949.5,414.4 945.7,424.0 936.1,424.0"/>
<polygon fill="rgb(30,30,30)" points="934.2,418.3 940.0,418.3 940.0,423.1 935.2,423.1"/>
<polygon fill="rgb(109,109,109)" points="938.0,468.0 949.5,470.0 957.2,479.5 964.8,487.2 984.0,487.2 999.3,487.2 1001.2,502.5 984.0,506.3 968.7,502.5 957.2,494.8 949.5,487.2 941.9,479.5"/>
<polygon fill="rgb(109,109,109)" points="941.9,510.1 953.3,512.1 961.0,521.6 957.2,533.1 949.5,529.3 943.8,519.7"/>
<polygon fill="rgb(89,89,89)" points="957.2,471.9 972.5,470.0 984.0,475.7 980.1,483.3 964.8,483.3"/>
<polygon fill="rgb(109,109,109)" points="968.7,494.8 984.0,492.9 1001.2,494.8 1001.2,514.0 987.8,517.8 976.3,510.1"/>
<polygon fill="rgb(89,89,89)" points="945.7,538.9 957.2,536.9 972.5,542.7 984.0,552.2 987.8,563.7 972.5,567.6 957.2,563.7 947.6,552.2"/>
<polygon fill="rgb(71,71,71)" points="951.4,542.7 961.0,540.8 964.8,548.4 957.2,556.1 951.4,552.2"/>
<polygon fill="rgb(109,109,109)" points="984.0,544.6 997.4,542.7 999.3,571.4 987.8,571.4 984.0,559.9"/>
</g>
<polygon fill="#000" points="1036.0,90.0 1013.5,396.0 993.0,600.0 963.0,883.0 937.0,1118.0 500.0,1128.5 70.0,1139.0 60.0,1139.0 60.0,1320.0 1290.0,1320.0 1290.0,90.0"/>
<path d="M74.5 1189.6 L72.7 1191.8 L72.7 1207.6 L79.0 1210.8 L91.7 1205.4 L104.4 1200.4 L110.7 1201.3 L115.5 1197.2 L117.0 1202.9 L126.6 1209.2 L139.3 1212.4 L155.1 1210.8 L167.8 1205.4 L177.3 1205.4 L196.3 1199.0 L205.8 1191.8 L209.0 1183.9 L218.5 1179.1 L234.4 1167.4 L242.3 1169.6 L256.5 1165.5 L262.9 1168.0 L281.9 1163.3 L294.6 1162.3 L301.0 1164.2 L313.6 1158.5 L323.1 1150.6 L332.6 1139.5 L335.8 1130.0 L345.3 1123.6 L351.7 1120.5 L361.2 1122.0 L373.8 1121.1 L392.9 1125.2 L402.4 1130.0 L408.7 1132.5 L418.2 1128.4 L427.7 1122.0 L440.4 1119.8 L472.0 1115.7 L480.0 1111.0 L480.0 1111.2 L505.9 1104.7 L531.9 1096.1 L557.8 1087.4 L583.7 1074.4 L605.4 1059.3 L622.7 1042.0 L635.6 1024.7 L648.6 1003.1 L655.1 985.8 L658.1 970.7 L670.2 964.2 L674.5 955.6 L681.0 942.6 L691.8 933.9 L704.8 925.3 L715.6 916.7 L726.4 910.2 L739.4 901.5 L745.9 892.9 L744.6 882.1 L735.0 877.8 L728.6 879.9 L726.4 869.1 L727.3 847.5 L724.2 830.2 L719.9 812.9 L721.2 795.6 L726.4 782.7 L735.0 771.8 L743.7 763.2 L756.7 756.7 L765.3 750.2 L773.9 743.7 L782.6 737.3 L793.4 732.9 L799.9 726.5 L802.0 713.5 L808.5 704.8 L812.9 696.2 L817.2 687.6 L825.8 683.2 L825.8 689.7 L821.5 696.2 L825.8 709.2 L830.1 722.1 L838.8 735.1 L843.1 743.7 L851.8 756.7 L860.4 769.7 L869.0 782.7 L877.7 795.6 L886.3 808.6 L892.8 821.6 L895.0 830.2 L892.8 817.2 L890.7 804.3 L895.0 791.3 L899.3 778.3 L901.5 765.4 L908.0 761.0 L912.3 769.7 L916.6 778.3 L925.2 787.0 L931.7 782.7 L929.6 769.7 L925.2 756.7 L929.6 748.1 L936.1 739.4 L925.2 739.4 L912.3 726.5 L903.6 713.5 L895.0 704.8 L886.3 700.5 L890.7 687.6 L899.3 674.6 L895.0 661.6 L903.6 657.3 L912.3 661.6 L925.2 670.3 L938.2 674.6 L951.2 665.9 L964.1 670.3 L972.8 678.9 L985.8 683.2 L1003.1 678.9 L1020.3 681.1 L1042.0 685.4 L1054.9 688.4 L1042.0 689.7 L1020.3 686.7 L998.7 684.1 L992.2 674.6 L992.2 657.3 L998.7 646.5 L1007.4 657.3 L1016.0 648.6 L1018.2 640.0 M991.3 660.2 L995.0 650.2 L1000.0 645.2 L1005.0 652.7 L1010.0 660.2 L1017.5 652.7 L1017.5 637.7 L1022.5 625.2 L1030.0 617.7 L1033.8 615.2 L1025.0 615.2 L1017.5 625.2 L1010.0 635.2 L1005.0 637.7 L1002.5 630.2 L997.5 622.7 L993.8 617.7 L992.5 610.2 L995.0 597.7 L993.8 585.2 L997.5 580.2 L1005.0 575.2 L1015.0 572.7 L1022.5 570.2 L1027.5 572.7 L1030.0 565.2 L1035.0 557.7 L1042.6 560.2 L1047.6 557.7 L1055.1 560.2 L1062.6 567.7 L1067.6 575.2 L1075.1 572.7 L1080.1 575.2 L1088.8 580.2 L1080.1 570.2 L1082.6 557.7 L1075.1 555.2 L1067.6 550.2 L1060.1 555.2 L1055.1 550.2 L1052.6 545.1 L1060.1 542.6 L1070.1 537.6 L1067.6 530.1 L1075.1 522.6 L1080.1 525.1 L1082.6 532.6 L1087.6 537.6 L1085.1 525.1 L1085.1 517.6 L1092.6 520.1 L1100.1 530.1 L1105.1 535.1 L1115.1 535.1 L1118.9 532.6 L1115.1 525.1 L1117.6 520.1 L1110.1 517.6 L1102.6 512.6 L1095.1 510.1 L1090.1 510.1 L1095.1 505.1 L1100.1 502.6 L1097.6 497.6 L1090.1 492.6 L1085.1 487.6 L1082.6 482.6 L1087.6 480.1 L1095.1 475.1 L1102.6 470.1 L1107.6 465.1 L1115.1 467.6 L1120.1 472.6 L1122.6 465.1 L1127.6 460.1 L1132.6 457.6 L1137.6 460.1 L1140.1 452.6 L1137.6 442.6 L1140.1 427.6 L1142.6 423.8 L1150.1 427.6 L1155.1 430.1 L1152.6 440.1 L1150.1 450.1 L1147.6 460.1 L1145.1 472.6 L1150.1 465.1 L1155.1 452.6 L1160.1 450.1 L1165.1 452.6 L1170.2 450.1 L1167.7 460.1 L1170.2 467.6 L1175.2 472.6 L1180.2 470.1 L1180.2 460.1 L1185.2 457.6 L1192.7 457.6 L1190.2 447.6 L1187.7 442.6 L1195.2 435.1 L1195.2 425.1 L1200.2 420.0 L1205.2 417.5 L1206.4 410.0 L1200.2 406.3 L1190.2 405.0 L1185.2 400.0 L1187.7 395.0 L1192.7 390.0 L1197.7 385.0 L1200.2 387.5 L1207.7 392.5 L1215.2 391.3 L1210.2 395.0 L1210.2 405.0 L1212.7 412.5 L1217.7 420.0 L1222.7 422.6 L1225.2 417.5 L1225.2 410.0 L1230.2 405.0 L1235.2 397.5 L1240.2 392.5 L1247.7 390.0 L1250.2 392.5 L1245.2 402.5 L1250.2 410.0 L1255.2 412.5 L1260.2 422.6 L1265.2 417.5 L1267.7 410.0 L1275.2 405.0 L1279.0 397.5 L1280.2 392.5 M1077.6 460.1 L1085.1 450.1 L1090.1 452.6 L1091.3 462.6 L1090.1 470.1 L1082.6 473.8 L1077.6 470.1Z M1050.1 512.6 L1055.1 510.1 L1057.6 515.1 L1055.1 520.1 L1051.3 517.6Z M1001.3 552.7 L1012.5 547.7 L1015.0 555.2 L1020.0 562.7 L1025.0 565.2 L1022.5 572.7 L1012.5 570.2 L1005.0 565.2 L1002.5 560.2Z M1025.0 550.2 L1032.5 547.7 L1040.0 552.7 L1035.0 560.2 L1027.5 560.2Z M1047.6 535.1 L1055.1 530.1 L1065.1 532.6 L1072.6 537.6 L1065.1 542.6 L1055.1 545.1 L1050.1 540.1Z M1250.2 382.5 L1260.2 380.5 L1262.7 383.8 L1252.7 385.0Z" fill="none" stroke="#fff" stroke-width="1.8" stroke-linejoin="round"/>
<path d="M216.7 96V1310 M459.5 96V1310 M702.2 96V1310 M945.0 96V1310 M1187.7 96V1310 M71 154.0H1284 M71 396.8H1284 M71 639.5H1284 M71 882.3H1284 M71 1125.0H1284" stroke="#fff" stroke-width="2.2" stroke-dasharray="2.2 3.2" fill="none"/>
<rect x="70" y="1278" width="312" height="29" fill="#000"/>
<text x="75.3" y="1300" font-size="17.5" font-weight="bold" style="fill:#fff">Copyright © 2020-2025 Dapiya</text>
</g>
<rect x="70.5" y="95.4" width="1213.8" height="1214.2" fill="none" stroke="#000" stroke-width="2.8"/>
<text x="217.3" y="1332" font-size="15.7" text-anchor="middle">118°E</text>
<text x="460.1" y="1332" font-size="15.7" text-anchor="middle">120°E</text>
<text x="702.8" y="1332" font-size="15.7" text-anchor="middle">122°E</text>
<text x="945.6" y="1332" font-size="15.7" text-anchor="middle">124°E</text>
<text x="1188.3" y="1332" font-size="15.7" text-anchor="middle">126°E</text>
<text x="63.5" y="159.4" font-size="15.7" text-anchor="end">12°S</text>
<text x="63.5" y="402.2" font-size="15.7" text-anchor="end">14°S</text>
<text x="63.5" y="644.9" font-size="15.7" text-anchor="end">16°S</text>
<text x="63.5" y="887.7" font-size="15.7" text-anchor="end">18°S</text>
<text x="63.5" y="1130.4" font-size="15.7" text-anchor="end">20°S</text>
<rect x="1296.5" y="95.5" width="24" height="179" fill="#000"/>
<rect x="1296.5" y="274" width="24" height="152.5" fill="url(#gbw)"/>
<rect x="1296.5" y="426.2" width="24" height="323" fill="url(#gbr)"/>
<rect x="1296.5" y="749.1" width="24" height="89.8" fill="#a52a2a"/>
<rect x="1296.5" y="838.9" width="24" height="94.8" fill="#ff6600"/>
<rect x="1296.5" y="933.7" width="24" height="81.2" fill="#ffdd33"/>
<rect x="1296.5" y="1014.9" width="24" height="46.8" fill="#a0d2ff"/>
<rect x="1296.5" y="1061.7" width="24" height="52.4" fill="#00bfff"/>
<rect x="1296.5" y="1114.1" width="24" height="37.8" fill="#4169e1"/>
<rect x="1296.5" y="1151.9" width="24" height="32.8" fill="#000099"/>
<rect x="1296.5" y="1184.7" width="24" height="125.3" fill="#ffffff"/>
<rect x="1296.5" y="95.5" width="24" height="1214.5" fill="none" stroke="#000" stroke-width="1.1"/>
<text x="1327.4" y="183.8" font-size="16.8">40</text>
<text x="1327.4" y="264.8" font-size="16.8">30</text>
<text x="1327.4" y="345.7" font-size="16.8">20</text>
<text x="1327.4" y="426.6" font-size="16.8">10</text>
<text x="1327.4" y="507.5" font-size="16.8">0</text>
<text x="1327.9" y="588.5" font-size="16.8">−10</text>
<text x="1327.9" y="669.4" font-size="16.8">−20</text>
<text x="1327.9" y="750.3" font-size="16.8">−30</text>
<text x="1327.9" y="831.2" font-size="16.8">−40</text>
<text x="1327.9" y="912.1" font-size="16.8">−50</text>
<text x="1327.9" y="993.1" font-size="16.8">−60</text>
<text x="1327.9" y="1074.0" font-size="16.8">−70</text>
<text x="1327.9" y="1154.9" font-size="16.8">−80</text>
<text x="1327.9" y="1235.8" font-size="16.8">−90</text>
</svg></body></html>
